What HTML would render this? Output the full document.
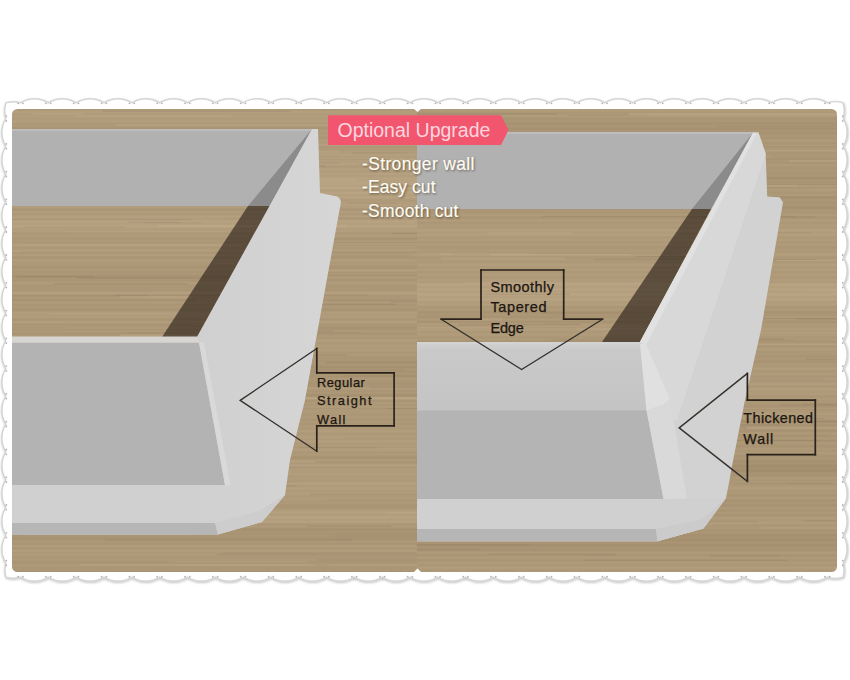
<!DOCTYPE html>
<html><head><meta charset="utf-8"><style>
html,body{margin:0;padding:0;background:#fff;width:850px;height:680px;overflow:hidden;font-family:"Liberation Sans",sans-serif;}
svg{display:block;position:absolute;left:0;top:0;}
</style></head><body><svg width="850" height="680" viewBox="0 0 850 680"><defs><linearGradient id="woodL" gradientUnits="userSpaceOnUse" x1="0" y1="109" x2="0" y2="572"><stop offset="0.0000" stop-color="#ac9777"/><stop offset="0.0022" stop-color="#ad9878"/><stop offset="0.0043" stop-color="#b19d7c"/><stop offset="0.0065" stop-color="#b49f7f"/><stop offset="0.0086" stop-color="#b19c7c"/><stop offset="0.0108" stop-color="#af9a7a"/><stop offset="0.0130" stop-color="#b09b7b"/><stop offset="0.0151" stop-color="#b19c7c"/><stop offset="0.0173" stop-color="#b29d7d"/><stop offset="0.0194" stop-color="#af9a7a"/><stop offset="0.0216" stop-color="#ae9979"/><stop offset="0.0238" stop-color="#b09b7b"/><stop offset="0.0259" stop-color="#b39e7e"/><stop offset="0.0281" stop-color="#b29d7d"/><stop offset="0.0302" stop-color="#ae9979"/><stop offset="0.0324" stop-color="#aa9575"/><stop offset="0.0346" stop-color="#af9a7a"/><stop offset="0.0367" stop-color="#af9a7a"/><stop offset="0.0389" stop-color="#ac9777"/><stop offset="0.0410" stop-color="#a89373"/><stop offset="0.0432" stop-color="#aa9575"/><stop offset="0.0454" stop-color="#ac9777"/><stop offset="0.0475" stop-color="#af9a7a"/><stop offset="0.0497" stop-color="#af9a7a"/><stop offset="0.0518" stop-color="#ac9777"/><stop offset="0.0540" stop-color="#ac9777"/><stop offset="0.0562" stop-color="#af9a7a"/><stop offset="0.0583" stop-color="#af9a7a"/><stop offset="0.0605" stop-color="#aa9575"/><stop offset="0.0626" stop-color="#ab9676"/><stop offset="0.0648" stop-color="#ac9777"/><stop offset="0.0670" stop-color="#b19c7c"/><stop offset="0.0691" stop-color="#b09b7b"/><stop offset="0.0713" stop-color="#af9a7a"/><stop offset="0.0734" stop-color="#ad9878"/><stop offset="0.0756" stop-color="#b19c7c"/><stop offset="0.0778" stop-color="#b5a080"/><stop offset="0.0799" stop-color="#b09b7b"/><stop offset="0.0821" stop-color="#ad9778"/><stop offset="0.0842" stop-color="#ac9777"/><stop offset="0.0864" stop-color="#b09b7b"/><stop offset="0.0886" stop-color="#b39e7e"/><stop offset="0.0907" stop-color="#b19c7c"/><stop offset="0.0929" stop-color="#af9a7a"/><stop offset="0.0950" stop-color="#af9a7a"/><stop offset="0.0972" stop-color="#b49f7f"/><stop offset="0.0994" stop-color="#b49f7f"/><stop offset="0.1015" stop-color="#b19c7c"/><stop offset="0.1037" stop-color="#b09b7b"/><stop offset="0.1058" stop-color="#b19c7c"/><stop offset="0.1080" stop-color="#b5a080"/><stop offset="0.1102" stop-color="#b6a181"/><stop offset="0.1123" stop-color="#b29d7d"/><stop offset="0.1145" stop-color="#b19c7c"/><stop offset="0.1166" stop-color="#b49f7f"/><stop offset="0.1188" stop-color="#b5a080"/><stop offset="0.1210" stop-color="#b5a080"/><stop offset="0.1231" stop-color="#af9a7a"/><stop offset="0.1253" stop-color="#ac9777"/><stop offset="0.1274" stop-color="#b19c7c"/><stop offset="0.1296" stop-color="#b5a080"/><stop offset="0.1317" stop-color="#b39e7e"/><stop offset="0.1339" stop-color="#b19c7c"/><stop offset="0.1361" stop-color="#af9a7a"/><stop offset="0.1382" stop-color="#b4a07f"/><stop offset="0.1404" stop-color="#b6a281"/><stop offset="0.1425" stop-color="#b39e7e"/><stop offset="0.1447" stop-color="#b19c7c"/><stop offset="0.1469" stop-color="#b39e7e"/><stop offset="0.1490" stop-color="#b6a181"/><stop offset="0.1512" stop-color="#b8a483"/><stop offset="0.1533" stop-color="#b5a080"/><stop offset="0.1555" stop-color="#b5a180"/><stop offset="0.1577" stop-color="#b8a383"/><stop offset="0.1598" stop-color="#b8a383"/><stop offset="0.1620" stop-color="#b8a483"/><stop offset="0.1641" stop-color="#b6a281"/><stop offset="0.1663" stop-color="#b49f7f"/><stop offset="0.1685" stop-color="#b8a383"/><stop offset="0.1706" stop-color="#bba686"/><stop offset="0.1728" stop-color="#b7a282"/><stop offset="0.1749" stop-color="#b19c7c"/><stop offset="0.1771" stop-color="#b29d7d"/><stop offset="0.1793" stop-color="#b7a382"/><stop offset="0.1814" stop-color="#b9a484"/><stop offset="0.1836" stop-color="#b5a080"/><stop offset="0.1857" stop-color="#b39f7e"/><stop offset="0.1879" stop-color="#b39e7e"/><stop offset="0.1901" stop-color="#b8a383"/><stop offset="0.1922" stop-color="#b6a281"/><stop offset="0.1944" stop-color="#b19c7c"/><stop offset="0.1965" stop-color="#ae9979"/><stop offset="0.1987" stop-color="#ae9979"/><stop offset="0.2009" stop-color="#b19c7c"/><stop offset="0.2030" stop-color="#b29d7d"/><stop offset="0.2052" stop-color="#b09b7b"/><stop offset="0.2073" stop-color="#ae9979"/><stop offset="0.2095" stop-color="#af9a7a"/><stop offset="0.2117" stop-color="#b29d7d"/><stop offset="0.2138" stop-color="#b19c7c"/><stop offset="0.2160" stop-color="#a99474"/><stop offset="0.2181" stop-color="#a99474"/><stop offset="0.2203" stop-color="#af9a7a"/><stop offset="0.2225" stop-color="#b29d7d"/><stop offset="0.2246" stop-color="#af9a7a"/><stop offset="0.2268" stop-color="#ad9878"/><stop offset="0.2289" stop-color="#ad9878"/><stop offset="0.2311" stop-color="#b39e7e"/><stop offset="0.2333" stop-color="#b5a080"/><stop offset="0.2354" stop-color="#b19c7c"/><stop offset="0.2376" stop-color="#b19c7c"/><stop offset="0.2397" stop-color="#b19c7c"/><stop offset="0.2419" stop-color="#b7a282"/><stop offset="0.2441" stop-color="#b6a181"/><stop offset="0.2462" stop-color="#b49f7f"/><stop offset="0.2484" stop-color="#b39e7e"/><stop offset="0.2505" stop-color="#b5a080"/><stop offset="0.2527" stop-color="#b8a383"/><stop offset="0.2549" stop-color="#b7a382"/><stop offset="0.2570" stop-color="#b39e7e"/><stop offset="0.2592" stop-color="#b09b7b"/><stop offset="0.2613" stop-color="#b19c7c"/><stop offset="0.2635" stop-color="#b39e7e"/><stop offset="0.2657" stop-color="#b19c7c"/><stop offset="0.2678" stop-color="#aa9575"/><stop offset="0.2700" stop-color="#ac9777"/><stop offset="0.2721" stop-color="#af9a7a"/><stop offset="0.2743" stop-color="#b09b7b"/><stop offset="0.2765" stop-color="#ae9979"/><stop offset="0.2786" stop-color="#aa9575"/><stop offset="0.2808" stop-color="#ab9676"/><stop offset="0.2829" stop-color="#ad9878"/><stop offset="0.2851" stop-color="#ae9979"/><stop offset="0.2873" stop-color="#ab9676"/><stop offset="0.2894" stop-color="#ab9676"/><stop offset="0.2916" stop-color="#b09c7b"/><stop offset="0.2937" stop-color="#b39e7e"/><stop offset="0.2959" stop-color="#b29d7d"/><stop offset="0.2981" stop-color="#ad9878"/><stop offset="0.3002" stop-color="#ac9777"/><stop offset="0.3024" stop-color="#ae9979"/><stop offset="0.3045" stop-color="#b39e7e"/><stop offset="0.3067" stop-color="#b19c7c"/><stop offset="0.3089" stop-color="#ae9979"/><stop offset="0.3110" stop-color="#a99474"/><stop offset="0.3132" stop-color="#ae9979"/><stop offset="0.3153" stop-color="#b29d7d"/><stop offset="0.3175" stop-color="#af9a7a"/><stop offset="0.3197" stop-color="#aa9575"/><stop offset="0.3218" stop-color="#a79272"/><stop offset="0.3240" stop-color="#b09b7b"/><stop offset="0.3261" stop-color="#b19c7c"/><stop offset="0.3283" stop-color="#b09b7b"/><stop offset="0.3305" stop-color="#ae9979"/><stop offset="0.3326" stop-color="#ac9777"/><stop offset="0.3348" stop-color="#ae9979"/><stop offset="0.3369" stop-color="#ad9878"/><stop offset="0.3391" stop-color="#aa9575"/><stop offset="0.3413" stop-color="#a89373"/><stop offset="0.3434" stop-color="#a89373"/><stop offset="0.3456" stop-color="#ad9878"/><stop offset="0.3477" stop-color="#b09b7b"/><stop offset="0.3499" stop-color="#aa9575"/><stop offset="0.3521" stop-color="#a99474"/><stop offset="0.3542" stop-color="#ab9676"/><stop offset="0.3564" stop-color="#ad9878"/><stop offset="0.3585" stop-color="#a99474"/><stop offset="0.3607" stop-color="#a69071"/><stop offset="0.3629" stop-color="#a89273"/><stop offset="0.3650" stop-color="#a99474"/><stop offset="0.3672" stop-color="#ac9777"/><stop offset="0.3693" stop-color="#a99474"/><stop offset="0.3715" stop-color="#a99474"/><stop offset="0.3737" stop-color="#ae9979"/><stop offset="0.3758" stop-color="#b19c7c"/><stop offset="0.3780" stop-color="#af9a7a"/><stop offset="0.3801" stop-color="#ab9676"/><stop offset="0.3823" stop-color="#aa9575"/><stop offset="0.3844" stop-color="#ab9676"/><stop offset="0.3866" stop-color="#ab9676"/><stop offset="0.3888" stop-color="#ac9777"/><stop offset="0.3909" stop-color="#ab9576"/><stop offset="0.3931" stop-color="#ab9676"/><stop offset="0.3952" stop-color="#b19c7c"/><stop offset="0.3974" stop-color="#b5a080"/><stop offset="0.3996" stop-color="#b19c7c"/><stop offset="0.4017" stop-color="#ad9878"/><stop offset="0.4039" stop-color="#ab9576"/><stop offset="0.4060" stop-color="#ac9777"/><stop offset="0.4082" stop-color="#ad9878"/><stop offset="0.4104" stop-color="#aa9575"/><stop offset="0.4125" stop-color="#a69171"/><stop offset="0.4147" stop-color="#a99374"/><stop offset="0.4168" stop-color="#af9a7a"/><stop offset="0.4190" stop-color="#b09b7b"/><stop offset="0.4212" stop-color="#ab9676"/><stop offset="0.4233" stop-color="#aa9475"/><stop offset="0.4255" stop-color="#ab9676"/><stop offset="0.4276" stop-color="#ae9979"/><stop offset="0.4298" stop-color="#aa9575"/><stop offset="0.4320" stop-color="#a89373"/><stop offset="0.4341" stop-color="#a79272"/><stop offset="0.4363" stop-color="#ab9676"/><stop offset="0.4384" stop-color="#b09b7b"/><stop offset="0.4406" stop-color="#b29d7d"/><stop offset="0.4428" stop-color="#b09b7b"/><stop offset="0.4449" stop-color="#ac9777"/><stop offset="0.4471" stop-color="#b29d7d"/><stop offset="0.4492" stop-color="#b09b7b"/><stop offset="0.4514" stop-color="#ae9979"/><stop offset="0.4536" stop-color="#aa9575"/><stop offset="0.4557" stop-color="#a99474"/><stop offset="0.4579" stop-color="#af9a7a"/><stop offset="0.4600" stop-color="#b49f7f"/><stop offset="0.4622" stop-color="#ae9979"/><stop offset="0.4644" stop-color="#ac9777"/><stop offset="0.4665" stop-color="#a99474"/><stop offset="0.4687" stop-color="#ac9777"/><stop offset="0.4708" stop-color="#ad9878"/><stop offset="0.4730" stop-color="#a79272"/><stop offset="0.4752" stop-color="#a79272"/><stop offset="0.4773" stop-color="#aa9575"/><stop offset="0.4795" stop-color="#af9a7a"/><stop offset="0.4816" stop-color="#ad9878"/><stop offset="0.4838" stop-color="#aa9575"/><stop offset="0.4860" stop-color="#a79272"/><stop offset="0.4881" stop-color="#ac9777"/><stop offset="0.4903" stop-color="#ae9979"/><stop offset="0.4924" stop-color="#ad9878"/><stop offset="0.4946" stop-color="#ab9676"/><stop offset="0.4968" stop-color="#ae9979"/><stop offset="0.4989" stop-color="#b29d7d"/><stop offset="0.5011" stop-color="#b39e7e"/><stop offset="0.5032" stop-color="#af9a7a"/><stop offset="0.5054" stop-color="#ab9676"/><stop offset="0.5076" stop-color="#ac9777"/><stop offset="0.5097" stop-color="#b09c7b"/><stop offset="0.5119" stop-color="#b19c7c"/><stop offset="0.5140" stop-color="#af9a7a"/><stop offset="0.5162" stop-color="#ad9878"/><stop offset="0.5184" stop-color="#af9a7a"/><stop offset="0.5205" stop-color="#b29d7d"/><stop offset="0.5227" stop-color="#af9a7a"/><stop offset="0.5248" stop-color="#ab9676"/><stop offset="0.5270" stop-color="#aa9575"/><stop offset="0.5292" stop-color="#ad9878"/><stop offset="0.5313" stop-color="#af9a7a"/><stop offset="0.5335" stop-color="#ad9878"/><stop offset="0.5356" stop-color="#a89373"/><stop offset="0.5378" stop-color="#aa9575"/><stop offset="0.5400" stop-color="#aa9475"/><stop offset="0.5421" stop-color="#ab9676"/><stop offset="0.5443" stop-color="#a89373"/><stop offset="0.5464" stop-color="#a38e6e"/><stop offset="0.5486" stop-color="#a58f70"/><stop offset="0.5508" stop-color="#aa9575"/><stop offset="0.5529" stop-color="#ab9676"/><stop offset="0.5551" stop-color="#a89373"/><stop offset="0.5572" stop-color="#a38e6e"/><stop offset="0.5594" stop-color="#a69171"/><stop offset="0.5616" stop-color="#ac9777"/><stop offset="0.5637" stop-color="#ac9777"/><stop offset="0.5659" stop-color="#a89373"/><stop offset="0.5680" stop-color="#a69071"/><stop offset="0.5702" stop-color="#aa9575"/><stop offset="0.5724" stop-color="#ab9676"/><stop offset="0.5745" stop-color="#ab9676"/><stop offset="0.5767" stop-color="#a89373"/><stop offset="0.5788" stop-color="#a79272"/><stop offset="0.5810" stop-color="#ad9878"/><stop offset="0.5832" stop-color="#ad9878"/><stop offset="0.5853" stop-color="#ac9777"/><stop offset="0.5875" stop-color="#aa9575"/><stop offset="0.5896" stop-color="#a99474"/><stop offset="0.5918" stop-color="#aa9575"/><stop offset="0.5940" stop-color="#ac9677"/><stop offset="0.5961" stop-color="#aa9575"/><stop offset="0.5983" stop-color="#a99474"/><stop offset="0.6004" stop-color="#ac9777"/><stop offset="0.6026" stop-color="#b29e7d"/><stop offset="0.6048" stop-color="#b09b7b"/><stop offset="0.6069" stop-color="#ab9676"/><stop offset="0.6091" stop-color="#a99474"/><stop offset="0.6112" stop-color="#ab9676"/><stop offset="0.6134" stop-color="#ad9878"/><stop offset="0.6156" stop-color="#a99474"/><stop offset="0.6177" stop-color="#a48e6f"/><stop offset="0.6199" stop-color="#a59070"/><stop offset="0.6220" stop-color="#ac9777"/><stop offset="0.6242" stop-color="#b39e7e"/><stop offset="0.6263" stop-color="#af9a7a"/><stop offset="0.6285" stop-color="#a89373"/><stop offset="0.6307" stop-color="#a99474"/><stop offset="0.6328" stop-color="#ab9676"/><stop offset="0.6350" stop-color="#af9a7a"/><stop offset="0.6371" stop-color="#ad9878"/><stop offset="0.6393" stop-color="#aa9575"/><stop offset="0.6415" stop-color="#ad9878"/><stop offset="0.6436" stop-color="#b29d7d"/><stop offset="0.6458" stop-color="#b29d7d"/><stop offset="0.6479" stop-color="#af9a7a"/><stop offset="0.6501" stop-color="#ac9777"/><stop offset="0.6523" stop-color="#ae9979"/><stop offset="0.6544" stop-color="#ae9979"/><stop offset="0.6566" stop-color="#ad9878"/><stop offset="0.6587" stop-color="#ac9777"/><stop offset="0.6609" stop-color="#aa9575"/><stop offset="0.6631" stop-color="#ad9878"/><stop offset="0.6652" stop-color="#af9a7a"/><stop offset="0.6674" stop-color="#ae9979"/><stop offset="0.6695" stop-color="#aa9575"/><stop offset="0.6717" stop-color="#a99474"/><stop offset="0.6739" stop-color="#ac9777"/><stop offset="0.6760" stop-color="#b09b7b"/><stop offset="0.6782" stop-color="#ab9676"/><stop offset="0.6803" stop-color="#aa9575"/><stop offset="0.6825" stop-color="#ac9777"/><stop offset="0.6847" stop-color="#ae9979"/><stop offset="0.6868" stop-color="#b09b7b"/><stop offset="0.6890" stop-color="#ac9777"/><stop offset="0.6911" stop-color="#ad9878"/><stop offset="0.6933" stop-color="#af9a7a"/><stop offset="0.6955" stop-color="#b39e7e"/><stop offset="0.6976" stop-color="#b09b7b"/><stop offset="0.6998" stop-color="#ac9777"/><stop offset="0.7019" stop-color="#ac9777"/><stop offset="0.7041" stop-color="#b09b7b"/><stop offset="0.7063" stop-color="#af9a7a"/><stop offset="0.7084" stop-color="#b29d7d"/><stop offset="0.7106" stop-color="#ad9878"/><stop offset="0.7127" stop-color="#ac9777"/><stop offset="0.7149" stop-color="#af9b7a"/><stop offset="0.7171" stop-color="#b39e7e"/><stop offset="0.7192" stop-color="#b39e7e"/><stop offset="0.7214" stop-color="#ad9878"/><stop offset="0.7235" stop-color="#ae9979"/><stop offset="0.7257" stop-color="#af9a7a"/><stop offset="0.7279" stop-color="#b09b7b"/><stop offset="0.7300" stop-color="#ae9979"/><stop offset="0.7322" stop-color="#ab9676"/><stop offset="0.7343" stop-color="#ad9878"/><stop offset="0.7365" stop-color="#b39e7e"/><stop offset="0.7387" stop-color="#b09b7b"/><stop offset="0.7408" stop-color="#aa9575"/><stop offset="0.7430" stop-color="#ac9777"/><stop offset="0.7451" stop-color="#ae9979"/><stop offset="0.7473" stop-color="#ae9979"/><stop offset="0.7495" stop-color="#ab9676"/><stop offset="0.7516" stop-color="#a69171"/><stop offset="0.7538" stop-color="#a69171"/><stop offset="0.7559" stop-color="#aa9575"/><stop offset="0.7581" stop-color="#af9a7a"/><stop offset="0.7603" stop-color="#ad9878"/><stop offset="0.7624" stop-color="#a99474"/><stop offset="0.7646" stop-color="#aa9575"/><stop offset="0.7667" stop-color="#af9b7a"/><stop offset="0.7689" stop-color="#b19c7c"/><stop offset="0.7711" stop-color="#b09b7b"/><stop offset="0.7732" stop-color="#ab9576"/><stop offset="0.7754" stop-color="#ac9777"/><stop offset="0.7775" stop-color="#b09b7b"/><stop offset="0.7797" stop-color="#b19c7c"/><stop offset="0.7819" stop-color="#af9a7a"/><stop offset="0.7840" stop-color="#af9a7a"/><stop offset="0.7862" stop-color="#b19c7c"/><stop offset="0.7883" stop-color="#b39e7e"/><stop offset="0.7905" stop-color="#b19c7c"/><stop offset="0.7927" stop-color="#ae9979"/><stop offset="0.7948" stop-color="#ae9979"/><stop offset="0.7970" stop-color="#af9a7a"/><stop offset="0.7991" stop-color="#b19c7c"/><stop offset="0.8013" stop-color="#ad9878"/><stop offset="0.8035" stop-color="#ad9878"/><stop offset="0.8056" stop-color="#ae9979"/><stop offset="0.8078" stop-color="#b49f7f"/><stop offset="0.8099" stop-color="#b49f7f"/><stop offset="0.8121" stop-color="#b19c7c"/><stop offset="0.8143" stop-color="#ad9878"/><stop offset="0.8164" stop-color="#b19c7c"/><stop offset="0.8186" stop-color="#b39f7e"/><stop offset="0.8207" stop-color="#b39e7e"/><stop offset="0.8229" stop-color="#af9a7a"/><stop offset="0.8251" stop-color="#ae9979"/><stop offset="0.8272" stop-color="#af9a7a"/><stop offset="0.8294" stop-color="#b29d7d"/><stop offset="0.8315" stop-color="#b39e7e"/><stop offset="0.8337" stop-color="#b09b7b"/><stop offset="0.8359" stop-color="#ac9777"/><stop offset="0.8380" stop-color="#ae9979"/><stop offset="0.8402" stop-color="#b09b7b"/><stop offset="0.8423" stop-color="#ae9979"/><stop offset="0.8445" stop-color="#aa9575"/><stop offset="0.8467" stop-color="#a99474"/><stop offset="0.8488" stop-color="#ad9878"/><stop offset="0.8510" stop-color="#ae9979"/><stop offset="0.8531" stop-color="#ad9878"/><stop offset="0.8553" stop-color="#a89373"/><stop offset="0.8575" stop-color="#a89373"/><stop offset="0.8596" stop-color="#ae9979"/><stop offset="0.8618" stop-color="#af9a7a"/><stop offset="0.8639" stop-color="#ae9979"/><stop offset="0.8661" stop-color="#ae9979"/><stop offset="0.8683" stop-color="#b19c7c"/><stop offset="0.8704" stop-color="#b39e7e"/><stop offset="0.8726" stop-color="#b6a181"/><stop offset="0.8747" stop-color="#b19c7c"/><stop offset="0.8769" stop-color="#b09b7b"/><stop offset="0.8790" stop-color="#b49f7f"/><stop offset="0.8812" stop-color="#b8a383"/><stop offset="0.8834" stop-color="#b6a281"/><stop offset="0.8855" stop-color="#b29d7d"/><stop offset="0.8877" stop-color="#b19c7c"/><stop offset="0.8898" stop-color="#b49f7f"/><stop offset="0.8920" stop-color="#b6a281"/><stop offset="0.8942" stop-color="#b19c7c"/><stop offset="0.8963" stop-color="#ac9777"/><stop offset="0.8985" stop-color="#aa9475"/><stop offset="0.9006" stop-color="#af9a7a"/><stop offset="0.9028" stop-color="#af9a7a"/><stop offset="0.9050" stop-color="#a99474"/><stop offset="0.9071" stop-color="#a59070"/><stop offset="0.9093" stop-color="#a59070"/><stop offset="0.9114" stop-color="#a99474"/><stop offset="0.9136" stop-color="#aa9575"/><stop offset="0.9158" stop-color="#a89373"/><stop offset="0.9179" stop-color="#a79272"/><stop offset="0.9201" stop-color="#a99474"/><stop offset="0.9222" stop-color="#ab9676"/><stop offset="0.9244" stop-color="#a89373"/><stop offset="0.9266" stop-color="#a69171"/><stop offset="0.9287" stop-color="#a79172"/><stop offset="0.9309" stop-color="#a99474"/><stop offset="0.9330" stop-color="#ac9777"/><stop offset="0.9352" stop-color="#ae9979"/><stop offset="0.9374" stop-color="#a89373"/><stop offset="0.9395" stop-color="#ab9576"/><stop offset="0.9417" stop-color="#ad9878"/><stop offset="0.9438" stop-color="#b29d7d"/><stop offset="0.9460" stop-color="#af9a7a"/><stop offset="0.9482" stop-color="#aa9575"/><stop offset="0.9503" stop-color="#ab9676"/><stop offset="0.9525" stop-color="#b19c7c"/><stop offset="0.9546" stop-color="#b19c7c"/><stop offset="0.9568" stop-color="#af9a7a"/><stop offset="0.9590" stop-color="#ac9777"/><stop offset="0.9611" stop-color="#ae9979"/><stop offset="0.9633" stop-color="#b19c7c"/><stop offset="0.9654" stop-color="#ad9878"/><stop offset="0.9676" stop-color="#ac9777"/><stop offset="0.9698" stop-color="#aa9575"/><stop offset="0.9719" stop-color="#ae9979"/><stop offset="0.9741" stop-color="#ae9979"/><stop offset="0.9762" stop-color="#aa9575"/><stop offset="0.9784" stop-color="#a99474"/><stop offset="0.9806" stop-color="#a89373"/><stop offset="0.9827" stop-color="#ad9878"/><stop offset="0.9849" stop-color="#ad9878"/><stop offset="0.9870" stop-color="#ae9979"/><stop offset="0.9892" stop-color="#aa9575"/><stop offset="0.9914" stop-color="#a99474"/><stop offset="0.9935" stop-color="#ac9777"/><stop offset="0.9957" stop-color="#ac9777"/><stop offset="0.9978" stop-color="#a99474"/><stop offset="1.0000" stop-color="#a69171"/></linearGradient><linearGradient id="woodR" gradientUnits="userSpaceOnUse" x1="0" y1="109" x2="0" y2="572"><stop offset="0.0000" stop-color="#ae9979"/><stop offset="0.0022" stop-color="#af9a7a"/><stop offset="0.0043" stop-color="#b09b7b"/><stop offset="0.0065" stop-color="#ad9878"/><stop offset="0.0086" stop-color="#aa9575"/><stop offset="0.0108" stop-color="#ab9676"/><stop offset="0.0130" stop-color="#af9a7a"/><stop offset="0.0151" stop-color="#b19d7c"/><stop offset="0.0173" stop-color="#ae9979"/><stop offset="0.0194" stop-color="#a99474"/><stop offset="0.0216" stop-color="#a89373"/><stop offset="0.0238" stop-color="#ab9676"/><stop offset="0.0259" stop-color="#ac9777"/><stop offset="0.0281" stop-color="#aa9575"/><stop offset="0.0302" stop-color="#a69171"/><stop offset="0.0324" stop-color="#a69171"/><stop offset="0.0346" stop-color="#a99474"/><stop offset="0.0367" stop-color="#ab9676"/><stop offset="0.0389" stop-color="#ab9576"/><stop offset="0.0410" stop-color="#a69171"/><stop offset="0.0432" stop-color="#a69071"/><stop offset="0.0454" stop-color="#a89373"/><stop offset="0.0475" stop-color="#ab9676"/><stop offset="0.0497" stop-color="#a89373"/><stop offset="0.0518" stop-color="#a59070"/><stop offset="0.0540" stop-color="#a79272"/><stop offset="0.0562" stop-color="#ab9676"/><stop offset="0.0583" stop-color="#ad9878"/><stop offset="0.0605" stop-color="#aa9575"/><stop offset="0.0626" stop-color="#a89373"/><stop offset="0.0648" stop-color="#aa9575"/><stop offset="0.0670" stop-color="#ae9979"/><stop offset="0.0691" stop-color="#af9b7a"/><stop offset="0.0713" stop-color="#ac9777"/><stop offset="0.0734" stop-color="#a99474"/><stop offset="0.0756" stop-color="#a99474"/><stop offset="0.0778" stop-color="#ae9979"/><stop offset="0.0799" stop-color="#b09b7b"/><stop offset="0.0821" stop-color="#ad9878"/><stop offset="0.0842" stop-color="#ab9676"/><stop offset="0.0864" stop-color="#ac9777"/><stop offset="0.0886" stop-color="#af9a7a"/><stop offset="0.0907" stop-color="#af9a7a"/><stop offset="0.0929" stop-color="#ad9878"/><stop offset="0.0950" stop-color="#a89373"/><stop offset="0.0972" stop-color="#a99474"/><stop offset="0.0994" stop-color="#ad9878"/><stop offset="0.1015" stop-color="#ac9777"/><stop offset="0.1037" stop-color="#a99474"/><stop offset="0.1058" stop-color="#a59070"/><stop offset="0.1080" stop-color="#a59070"/><stop offset="0.1102" stop-color="#aa9575"/><stop offset="0.1123" stop-color="#ad9878"/><stop offset="0.1145" stop-color="#a99474"/><stop offset="0.1166" stop-color="#a99474"/><stop offset="0.1188" stop-color="#ab9676"/><stop offset="0.1210" stop-color="#b09b7b"/><stop offset="0.1231" stop-color="#ad9878"/><stop offset="0.1253" stop-color="#aa9575"/><stop offset="0.1274" stop-color="#a99474"/><stop offset="0.1296" stop-color="#a89373"/><stop offset="0.1317" stop-color="#ac9777"/><stop offset="0.1339" stop-color="#ab9676"/><stop offset="0.1361" stop-color="#aa9575"/><stop offset="0.1382" stop-color="#a99474"/><stop offset="0.1404" stop-color="#a99474"/><stop offset="0.1425" stop-color="#ac9777"/><stop offset="0.1447" stop-color="#aa9575"/><stop offset="0.1469" stop-color="#a89373"/><stop offset="0.1490" stop-color="#a28d6d"/><stop offset="0.1512" stop-color="#a48f6f"/><stop offset="0.1533" stop-color="#ab9676"/><stop offset="0.1555" stop-color="#ac9777"/><stop offset="0.1577" stop-color="#a89373"/><stop offset="0.1598" stop-color="#a89373"/><stop offset="0.1620" stop-color="#ac9777"/><stop offset="0.1641" stop-color="#b29d7d"/><stop offset="0.1663" stop-color="#af9a7a"/><stop offset="0.1685" stop-color="#ac9777"/><stop offset="0.1706" stop-color="#a99474"/><stop offset="0.1728" stop-color="#ad9878"/><stop offset="0.1749" stop-color="#b09b7b"/><stop offset="0.1771" stop-color="#ae9979"/><stop offset="0.1793" stop-color="#ac9777"/><stop offset="0.1814" stop-color="#aa9575"/><stop offset="0.1836" stop-color="#ad9878"/><stop offset="0.1857" stop-color="#af9a7a"/><stop offset="0.1879" stop-color="#ae9979"/><stop offset="0.1901" stop-color="#a89373"/><stop offset="0.1922" stop-color="#a79272"/><stop offset="0.1944" stop-color="#a89373"/><stop offset="0.1965" stop-color="#ad9878"/><stop offset="0.1987" stop-color="#ab9676"/><stop offset="0.2009" stop-color="#a99474"/><stop offset="0.2030" stop-color="#a89373"/><stop offset="0.2052" stop-color="#a99474"/><stop offset="0.2073" stop-color="#ac9777"/><stop offset="0.2095" stop-color="#aa9575"/><stop offset="0.2117" stop-color="#a59070"/><stop offset="0.2138" stop-color="#a48f6f"/><stop offset="0.2160" stop-color="#a99474"/><stop offset="0.2181" stop-color="#ab9576"/><stop offset="0.2203" stop-color="#ac9777"/><stop offset="0.2225" stop-color="#aa9575"/><stop offset="0.2246" stop-color="#aa9575"/><stop offset="0.2268" stop-color="#ad9878"/><stop offset="0.2289" stop-color="#b19c7c"/><stop offset="0.2311" stop-color="#ae9979"/><stop offset="0.2333" stop-color="#a99474"/><stop offset="0.2354" stop-color="#a99474"/><stop offset="0.2376" stop-color="#ad9878"/><stop offset="0.2397" stop-color="#b09b7b"/><stop offset="0.2419" stop-color="#b19c7c"/><stop offset="0.2441" stop-color="#ab9676"/><stop offset="0.2462" stop-color="#ab9676"/><stop offset="0.2484" stop-color="#ad9878"/><stop offset="0.2505" stop-color="#b09b7b"/><stop offset="0.2527" stop-color="#af9a7a"/><stop offset="0.2549" stop-color="#ae9979"/><stop offset="0.2570" stop-color="#ac9777"/><stop offset="0.2592" stop-color="#b09b7b"/><stop offset="0.2613" stop-color="#b5a080"/><stop offset="0.2635" stop-color="#b49f7f"/><stop offset="0.2657" stop-color="#b09b7b"/><stop offset="0.2678" stop-color="#af9a7a"/><stop offset="0.2700" stop-color="#b29e7d"/><stop offset="0.2721" stop-color="#b4a07f"/><stop offset="0.2743" stop-color="#b19c7c"/><stop offset="0.2765" stop-color="#ad9878"/><stop offset="0.2786" stop-color="#ad9878"/><stop offset="0.2808" stop-color="#af9a7a"/><stop offset="0.2829" stop-color="#b19c7c"/><stop offset="0.2851" stop-color="#af9a7a"/><stop offset="0.2873" stop-color="#ab9676"/><stop offset="0.2894" stop-color="#ad9778"/><stop offset="0.2916" stop-color="#af9a7a"/><stop offset="0.2937" stop-color="#b09b7b"/><stop offset="0.2959" stop-color="#ad9878"/><stop offset="0.2981" stop-color="#aa9575"/><stop offset="0.3002" stop-color="#aa9575"/><stop offset="0.3024" stop-color="#ad9878"/><stop offset="0.3045" stop-color="#af9a7a"/><stop offset="0.3067" stop-color="#ae9979"/><stop offset="0.3089" stop-color="#ac9777"/><stop offset="0.3110" stop-color="#af9a7a"/><stop offset="0.3132" stop-color="#b19d7c"/><stop offset="0.3153" stop-color="#b49f7f"/><stop offset="0.3175" stop-color="#ae9979"/><stop offset="0.3197" stop-color="#ab9676"/><stop offset="0.3218" stop-color="#aa9575"/><stop offset="0.3240" stop-color="#ad9878"/><stop offset="0.3261" stop-color="#af9a7a"/><stop offset="0.3283" stop-color="#ad9878"/><stop offset="0.3305" stop-color="#ab9676"/><stop offset="0.3326" stop-color="#ae9979"/><stop offset="0.3348" stop-color="#b19c7c"/><stop offset="0.3369" stop-color="#b39e7e"/><stop offset="0.3391" stop-color="#b19c7c"/><stop offset="0.3413" stop-color="#ac9777"/><stop offset="0.3434" stop-color="#ae9979"/><stop offset="0.3456" stop-color="#b09b7b"/><stop offset="0.3477" stop-color="#b29d7d"/><stop offset="0.3499" stop-color="#ae9979"/><stop offset="0.3521" stop-color="#ac9777"/><stop offset="0.3542" stop-color="#ad9878"/><stop offset="0.3564" stop-color="#b19c7c"/><stop offset="0.3585" stop-color="#b19c7c"/><stop offset="0.3607" stop-color="#ae9979"/><stop offset="0.3629" stop-color="#ab9676"/><stop offset="0.3650" stop-color="#ad9878"/><stop offset="0.3672" stop-color="#b09b7b"/><stop offset="0.3693" stop-color="#b29d7d"/><stop offset="0.3715" stop-color="#b09b7b"/><stop offset="0.3737" stop-color="#af9a7a"/><stop offset="0.3758" stop-color="#b09b7b"/><stop offset="0.3780" stop-color="#b7a282"/><stop offset="0.3801" stop-color="#b9a484"/><stop offset="0.3823" stop-color="#b49f7f"/><stop offset="0.3844" stop-color="#b39e7e"/><stop offset="0.3866" stop-color="#b39e7e"/><stop offset="0.3888" stop-color="#b8a483"/><stop offset="0.3909" stop-color="#b7a282"/><stop offset="0.3931" stop-color="#b4a07f"/><stop offset="0.3952" stop-color="#b19d7c"/><stop offset="0.3974" stop-color="#b6a181"/><stop offset="0.3996" stop-color="#b9a484"/><stop offset="0.4017" stop-color="#b8a383"/><stop offset="0.4039" stop-color="#b5a080"/><stop offset="0.4060" stop-color="#b19c7c"/><stop offset="0.4082" stop-color="#b49f7f"/><stop offset="0.4104" stop-color="#b8a383"/><stop offset="0.4125" stop-color="#b7a282"/><stop offset="0.4147" stop-color="#b29e7d"/><stop offset="0.4168" stop-color="#b09b7b"/><stop offset="0.4190" stop-color="#b09b7b"/><stop offset="0.4212" stop-color="#b39f7e"/><stop offset="0.4233" stop-color="#b39e7e"/><stop offset="0.4255" stop-color="#ae9979"/><stop offset="0.4276" stop-color="#aa9575"/><stop offset="0.4298" stop-color="#ab9676"/><stop offset="0.4320" stop-color="#af9a7a"/><stop offset="0.4341" stop-color="#ae9979"/><stop offset="0.4363" stop-color="#ab9676"/><stop offset="0.4384" stop-color="#a69171"/><stop offset="0.4406" stop-color="#a89373"/><stop offset="0.4428" stop-color="#ac9777"/><stop offset="0.4449" stop-color="#aa9575"/><stop offset="0.4471" stop-color="#a99474"/><stop offset="0.4492" stop-color="#a89373"/><stop offset="0.4514" stop-color="#a89373"/><stop offset="0.4536" stop-color="#ae9979"/><stop offset="0.4557" stop-color="#ae9979"/><stop offset="0.4579" stop-color="#a99474"/><stop offset="0.4600" stop-color="#a69171"/><stop offset="0.4622" stop-color="#aa9575"/><stop offset="0.4644" stop-color="#af9a7a"/><stop offset="0.4665" stop-color="#af9a7a"/><stop offset="0.4687" stop-color="#ac9777"/><stop offset="0.4708" stop-color="#ac9777"/><stop offset="0.4730" stop-color="#af9a7a"/><stop offset="0.4752" stop-color="#b19c7c"/><stop offset="0.4773" stop-color="#b29d7d"/><stop offset="0.4795" stop-color="#ad9878"/><stop offset="0.4816" stop-color="#ac9777"/><stop offset="0.4838" stop-color="#ad9878"/><stop offset="0.4860" stop-color="#b09c7b"/><stop offset="0.4881" stop-color="#b09b7b"/><stop offset="0.4903" stop-color="#ae9979"/><stop offset="0.4924" stop-color="#aa9575"/><stop offset="0.4946" stop-color="#ab9676"/><stop offset="0.4968" stop-color="#af9b7a"/><stop offset="0.4989" stop-color="#ad9878"/><stop offset="0.5011" stop-color="#a99474"/><stop offset="0.5032" stop-color="#a89373"/><stop offset="0.5054" stop-color="#ac9777"/><stop offset="0.5076" stop-color="#ad9878"/><stop offset="0.5097" stop-color="#ae9979"/><stop offset="0.5119" stop-color="#a99474"/><stop offset="0.5140" stop-color="#ab9676"/><stop offset="0.5162" stop-color="#ae9979"/><stop offset="0.5184" stop-color="#b09b7b"/><stop offset="0.5205" stop-color="#b09b7b"/><stop offset="0.5227" stop-color="#ac9777"/><stop offset="0.5248" stop-color="#ab9676"/><stop offset="0.5270" stop-color="#ac9777"/><stop offset="0.5292" stop-color="#ad9878"/><stop offset="0.5313" stop-color="#ab9676"/><stop offset="0.5335" stop-color="#a99474"/><stop offset="0.5356" stop-color="#a89373"/><stop offset="0.5378" stop-color="#ad9778"/><stop offset="0.5400" stop-color="#ad9878"/><stop offset="0.5421" stop-color="#ac9777"/><stop offset="0.5443" stop-color="#a79272"/><stop offset="0.5464" stop-color="#a89273"/><stop offset="0.5486" stop-color="#ac9777"/><stop offset="0.5508" stop-color="#ad9878"/><stop offset="0.5529" stop-color="#ad9878"/><stop offset="0.5551" stop-color="#ac9777"/><stop offset="0.5572" stop-color="#ac9777"/><stop offset="0.5594" stop-color="#b09b7b"/><stop offset="0.5616" stop-color="#b29d7d"/><stop offset="0.5637" stop-color="#ad9878"/><stop offset="0.5659" stop-color="#ab9676"/><stop offset="0.5680" stop-color="#ab9676"/><stop offset="0.5702" stop-color="#ae9979"/><stop offset="0.5724" stop-color="#b09b7b"/><stop offset="0.5745" stop-color="#ae9979"/><stop offset="0.5767" stop-color="#aa9575"/><stop offset="0.5788" stop-color="#aa9575"/><stop offset="0.5810" stop-color="#ad9878"/><stop offset="0.5832" stop-color="#af9a7a"/><stop offset="0.5853" stop-color="#ac9777"/><stop offset="0.5875" stop-color="#aa9575"/><stop offset="0.5896" stop-color="#ab9676"/><stop offset="0.5918" stop-color="#b09c7b"/><stop offset="0.5940" stop-color="#b39e7e"/><stop offset="0.5961" stop-color="#af9a7a"/><stop offset="0.5983" stop-color="#ab9676"/><stop offset="0.6004" stop-color="#ab9676"/><stop offset="0.6026" stop-color="#af9a7a"/><stop offset="0.6048" stop-color="#b29d7d"/><stop offset="0.6069" stop-color="#b09b7b"/><stop offset="0.6091" stop-color="#af9a7a"/><stop offset="0.6112" stop-color="#ad9878"/><stop offset="0.6134" stop-color="#af9a7a"/><stop offset="0.6156" stop-color="#b19c7c"/><stop offset="0.6177" stop-color="#ad9878"/><stop offset="0.6199" stop-color="#aa9575"/><stop offset="0.6220" stop-color="#a99474"/><stop offset="0.6242" stop-color="#ae9979"/><stop offset="0.6263" stop-color="#af9a7a"/><stop offset="0.6285" stop-color="#ae9979"/><stop offset="0.6307" stop-color="#aa9575"/><stop offset="0.6328" stop-color="#ac9777"/><stop offset="0.6350" stop-color="#ab9676"/><stop offset="0.6371" stop-color="#ab9676"/><stop offset="0.6393" stop-color="#a89373"/><stop offset="0.6415" stop-color="#a89373"/><stop offset="0.6436" stop-color="#a99374"/><stop offset="0.6458" stop-color="#ad9878"/><stop offset="0.6479" stop-color="#b19c7c"/><stop offset="0.6501" stop-color="#ad9778"/><stop offset="0.6523" stop-color="#ab9676"/><stop offset="0.6544" stop-color="#ac9777"/><stop offset="0.6566" stop-color="#af9a7a"/><stop offset="0.6587" stop-color="#b19c7c"/><stop offset="0.6609" stop-color="#ad9878"/><stop offset="0.6631" stop-color="#ab9676"/><stop offset="0.6652" stop-color="#ae9979"/><stop offset="0.6674" stop-color="#b09b7b"/><stop offset="0.6695" stop-color="#af9a7a"/><stop offset="0.6717" stop-color="#a99374"/><stop offset="0.6739" stop-color="#a79272"/><stop offset="0.6760" stop-color="#a79272"/><stop offset="0.6782" stop-color="#ab9676"/><stop offset="0.6803" stop-color="#ab9676"/><stop offset="0.6825" stop-color="#a89373"/><stop offset="0.6847" stop-color="#a59070"/><stop offset="0.6868" stop-color="#a89373"/><stop offset="0.6890" stop-color="#aa9575"/><stop offset="0.6911" stop-color="#ab9576"/><stop offset="0.6933" stop-color="#a89373"/><stop offset="0.6955" stop-color="#a69071"/><stop offset="0.6976" stop-color="#a99474"/><stop offset="0.6998" stop-color="#ad9878"/><stop offset="0.7019" stop-color="#af9a7a"/><stop offset="0.7041" stop-color="#ac9777"/><stop offset="0.7063" stop-color="#a89373"/><stop offset="0.7084" stop-color="#a99474"/><stop offset="0.7106" stop-color="#ad9878"/><stop offset="0.7127" stop-color="#ac9777"/><stop offset="0.7149" stop-color="#a99474"/><stop offset="0.7171" stop-color="#a99474"/><stop offset="0.7192" stop-color="#ab9676"/><stop offset="0.7214" stop-color="#ae9979"/><stop offset="0.7235" stop-color="#ac9777"/><stop offset="0.7257" stop-color="#aa9575"/><stop offset="0.7279" stop-color="#a79272"/><stop offset="0.7300" stop-color="#a99374"/><stop offset="0.7322" stop-color="#ac9777"/><stop offset="0.7343" stop-color="#ae9979"/><stop offset="0.7365" stop-color="#ac9777"/><stop offset="0.7387" stop-color="#a99474"/><stop offset="0.7408" stop-color="#ab9676"/><stop offset="0.7430" stop-color="#b09b7b"/><stop offset="0.7451" stop-color="#af9a7a"/><stop offset="0.7473" stop-color="#a99474"/><stop offset="0.7495" stop-color="#a89373"/><stop offset="0.7516" stop-color="#a99374"/><stop offset="0.7538" stop-color="#ac9777"/><stop offset="0.7559" stop-color="#ab9676"/><stop offset="0.7581" stop-color="#a89373"/><stop offset="0.7603" stop-color="#a69171"/><stop offset="0.7624" stop-color="#a58f70"/><stop offset="0.7646" stop-color="#a99474"/><stop offset="0.7667" stop-color="#a79272"/><stop offset="0.7689" stop-color="#a48f6f"/><stop offset="0.7711" stop-color="#a18c6c"/><stop offset="0.7732" stop-color="#a38e6e"/><stop offset="0.7754" stop-color="#a69171"/><stop offset="0.7775" stop-color="#a48f6f"/><stop offset="0.7797" stop-color="#a18c6c"/><stop offset="0.7819" stop-color="#a08a6b"/><stop offset="0.7840" stop-color="#a69071"/><stop offset="0.7862" stop-color="#a89373"/><stop offset="0.7883" stop-color="#a99474"/><stop offset="0.7905" stop-color="#a69171"/><stop offset="0.7927" stop-color="#a79272"/><stop offset="0.7948" stop-color="#ac9777"/><stop offset="0.7970" stop-color="#af9a7a"/><stop offset="0.7991" stop-color="#ad9878"/><stop offset="0.8013" stop-color="#aa9575"/><stop offset="0.8035" stop-color="#aa9575"/><stop offset="0.8056" stop-color="#ac9777"/><stop offset="0.8078" stop-color="#b19c7c"/><stop offset="0.8099" stop-color="#af9a7a"/><stop offset="0.8121" stop-color="#ab9676"/><stop offset="0.8143" stop-color="#ac9777"/><stop offset="0.8164" stop-color="#b09b7b"/><stop offset="0.8186" stop-color="#b09b7b"/><stop offset="0.8207" stop-color="#b09b7b"/><stop offset="0.8229" stop-color="#ac9777"/><stop offset="0.8251" stop-color="#aa9575"/><stop offset="0.8272" stop-color="#ac9777"/><stop offset="0.8294" stop-color="#ac9777"/><stop offset="0.8315" stop-color="#ad9878"/><stop offset="0.8337" stop-color="#a99474"/><stop offset="0.8359" stop-color="#a89373"/><stop offset="0.8380" stop-color="#ad9878"/><stop offset="0.8402" stop-color="#b09b7b"/><stop offset="0.8423" stop-color="#ac9777"/><stop offset="0.8445" stop-color="#a69171"/><stop offset="0.8467" stop-color="#a89373"/><stop offset="0.8488" stop-color="#aa9575"/><stop offset="0.8510" stop-color="#ac9777"/><stop offset="0.8531" stop-color="#a99474"/><stop offset="0.8553" stop-color="#a69071"/><stop offset="0.8575" stop-color="#a79272"/><stop offset="0.8596" stop-color="#ac9777"/><stop offset="0.8618" stop-color="#ad9878"/><stop offset="0.8639" stop-color="#ad9878"/><stop offset="0.8661" stop-color="#a89373"/><stop offset="0.8683" stop-color="#a89373"/><stop offset="0.8704" stop-color="#ac9777"/><stop offset="0.8726" stop-color="#ae9979"/><stop offset="0.8747" stop-color="#ab9676"/><stop offset="0.8769" stop-color="#a89373"/><stop offset="0.8790" stop-color="#a99474"/><stop offset="0.8812" stop-color="#ae9979"/><stop offset="0.8834" stop-color="#b09b7b"/><stop offset="0.8855" stop-color="#af9a7a"/><stop offset="0.8877" stop-color="#ad9878"/><stop offset="0.8898" stop-color="#ae9979"/><stop offset="0.8920" stop-color="#b09b7b"/><stop offset="0.8942" stop-color="#b19c7c"/><stop offset="0.8963" stop-color="#af9a7a"/><stop offset="0.8985" stop-color="#aa9575"/><stop offset="0.9006" stop-color="#ab9676"/><stop offset="0.9028" stop-color="#ab9676"/><stop offset="0.9050" stop-color="#af9a7a"/><stop offset="0.9071" stop-color="#ab9676"/><stop offset="0.9093" stop-color="#a99474"/><stop offset="0.9114" stop-color="#a69171"/><stop offset="0.9136" stop-color="#aa9575"/><stop offset="0.9158" stop-color="#ac9777"/><stop offset="0.9179" stop-color="#a79272"/><stop offset="0.9201" stop-color="#a48e6f"/><stop offset="0.9222" stop-color="#a59070"/><stop offset="0.9244" stop-color="#a89373"/><stop offset="0.9266" stop-color="#a89373"/><stop offset="0.9287" stop-color="#a48f6f"/><stop offset="0.9309" stop-color="#a38e6e"/><stop offset="0.9330" stop-color="#a59070"/><stop offset="0.9352" stop-color="#a99474"/><stop offset="0.9374" stop-color="#a99474"/><stop offset="0.9395" stop-color="#a69071"/><stop offset="0.9417" stop-color="#a48e6f"/><stop offset="0.9438" stop-color="#a59070"/><stop offset="0.9460" stop-color="#a89373"/><stop offset="0.9482" stop-color="#ab9576"/><stop offset="0.9503" stop-color="#a89373"/><stop offset="0.9525" stop-color="#a59070"/><stop offset="0.9546" stop-color="#a99474"/><stop offset="0.9568" stop-color="#ae9979"/><stop offset="0.9590" stop-color="#b09b7b"/><stop offset="0.9611" stop-color="#ac9777"/><stop offset="0.9633" stop-color="#a79272"/><stop offset="0.9654" stop-color="#ab9676"/><stop offset="0.9676" stop-color="#af9a7a"/><stop offset="0.9698" stop-color="#af9a7a"/><stop offset="0.9719" stop-color="#ac9777"/><stop offset="0.9741" stop-color="#a99474"/><stop offset="0.9762" stop-color="#aa9575"/><stop offset="0.9784" stop-color="#af9a7a"/><stop offset="0.9806" stop-color="#ae9979"/><stop offset="0.9827" stop-color="#ad9878"/><stop offset="0.9849" stop-color="#aa9575"/><stop offset="0.9870" stop-color="#ab9676"/><stop offset="0.9892" stop-color="#b09b7b"/><stop offset="0.9914" stop-color="#b29d7d"/><stop offset="0.9935" stop-color="#af9a7a"/><stop offset="0.9957" stop-color="#ac9777"/><stop offset="0.9978" stop-color="#ac9777"/><stop offset="1.0000" stop-color="#af9a7a"/></linearGradient><clipPath id="clipL"><rect x="12" y="109" width="405" height="463"/></clipPath><clipPath id="clipR"><rect x="417" y="109" width="421" height="463"/></clipPath><linearGradient id="ffR" x1="0" y1="342" x2="0" y2="410" gradientUnits="userSpaceOnUse"><stop offset="0" stop-color="#d2d2d2"/><stop offset="0.12" stop-color="#c9c9c9"/><stop offset="1" stop-color="#c4c4c4"/></linearGradient><linearGradient id="wallL" x1="200" y1="0" x2="340" y2="0" gradientUnits="userSpaceOnUse"><stop offset="0" stop-color="#d0d0d0"/><stop offset="1" stop-color="#d6d6d6"/></linearGradient><clipPath id="clipP"><rect x="12" y="109" width="825" height="463" rx="5.5"/></clipPath><filter id="tb" x="-10%" y="-30%" width="120%" height="160%"><feGaussianBlur stdDeviation="0.85"/></filter><filter id="fs" x="-5%" y="-5%" width="110%" height="110%"><feGaussianBlur stdDeviation="1.2"/></filter></defs><path d="M6.0,103.0 A26,26 0 0 1 20.5,103.0 A26,26 0 0 1 48.3,103.0 A26,26 0 0 1 76.1,103.0 A26,26 0 0 1 104.0,103.0 A26,26 0 0 1 131.8,103.0 A26,26 0 0 1 159.6,103.0 A26,26 0 0 1 187.4,103.0 A26,26 0 0 1 215.2,103.0 A26,26 0 0 1 243.1,103.0 A26,26 0 0 1 270.9,103.0 A26,26 0 0 1 298.7,103.0 A26,26 0 0 1 326.5,103.0 A26,26 0 0 1 354.3,103.0 A26,26 0 0 1 382.2,103.0 A26,26 0 0 1 410.0,103.0 A26,26 0 0 1 437.8,103.0 A26,26 0 0 1 465.6,103.0 A26,26 0 0 1 493.4,103.0 A26,26 0 0 1 521.3,103.0 A26,26 0 0 1 549.1,103.0 A26,26 0 0 1 576.9,103.0 A26,26 0 0 1 604.7,103.0 A26,26 0 0 1 632.5,103.0 A26,26 0 0 1 660.4,103.0 A26,26 0 0 1 688.2,103.0 A26,26 0 0 1 716.0,103.0 A26,26 0 0 1 743.8,103.0 A26,26 0 0 1 771.6,103.0 A26,26 0 0 1 799.5,103.0 A26,26 0 0 1 827.3,103.0 A26,26 0 0 1 843.0,103.0 A26,26 0 0 1 843.0,118.5 A26,26 0 0 1 843.0,146.3 A26,26 0 0 1 843.0,174.1 A26,26 0 0 1 843.0,201.8 A26,26 0 0 1 843.0,229.6 A26,26 0 0 1 843.0,257.4 A26,26 0 0 1 843.0,285.2 A26,26 0 0 1 843.0,313.0 A26,26 0 0 1 843.0,340.7 A26,26 0 0 1 843.0,368.5 A26,26 0 0 1 843.0,396.3 A26,26 0 0 1 843.0,424.1 A26,26 0 0 1 843.0,451.9 A26,26 0 0 1 843.0,479.6 A26,26 0 0 1 843.0,507.4 A26,26 0 0 1 843.0,535.2 A26,26 0 0 1 843.0,563.0 A26,26 0 0 1 843.0,577.0 A26,26 0 0 1 827.3,577.0 A26,26 0 0 1 799.5,577.0 A26,26 0 0 1 771.6,577.0 A26,26 0 0 1 743.8,577.0 A26,26 0 0 1 716.0,577.0 A26,26 0 0 1 688.2,577.0 A26,26 0 0 1 660.4,577.0 A26,26 0 0 1 632.5,577.0 A26,26 0 0 1 604.7,577.0 A26,26 0 0 1 576.9,577.0 A26,26 0 0 1 549.1,577.0 A26,26 0 0 1 521.3,577.0 A26,26 0 0 1 493.4,577.0 A26,26 0 0 1 465.6,577.0 A26,26 0 0 1 437.8,577.0 A26,26 0 0 1 410.0,577.0 A26,26 0 0 1 382.2,577.0 A26,26 0 0 1 354.3,577.0 A26,26 0 0 1 326.5,577.0 A26,26 0 0 1 298.7,577.0 A26,26 0 0 1 270.9,577.0 A26,26 0 0 1 243.1,577.0 A26,26 0 0 1 215.2,577.0 A26,26 0 0 1 187.4,577.0 A26,26 0 0 1 159.6,577.0 A26,26 0 0 1 131.8,577.0 A26,26 0 0 1 104.0,577.0 A26,26 0 0 1 76.1,577.0 A26,26 0 0 1 48.3,577.0 A26,26 0 0 1 20.5,577.0 A26,26 0 0 1 6.0,577.0 A26,26 0 0 1 6.0,563.0 A26,26 0 0 1 6.0,535.2 A26,26 0 0 1 6.0,507.4 A26,26 0 0 1 6.0,479.6 A26,26 0 0 1 6.0,451.9 A26,26 0 0 1 6.0,424.1 A26,26 0 0 1 6.0,396.3 A26,26 0 0 1 6.0,368.5 A26,26 0 0 1 6.0,340.7 A26,26 0 0 1 6.0,313.0 A26,26 0 0 1 6.0,285.2 A26,26 0 0 1 6.0,257.4 A26,26 0 0 1 6.0,229.6 A26,26 0 0 1 6.0,201.8 A26,26 0 0 1 6.0,174.1 A26,26 0 0 1 6.0,146.3 A26,26 0 0 1 6.0,118.5 A26,26 0 0 1 6.0,103.0 Z" fill="none" stroke="#b8b8b8" stroke-width="1.8" transform="translate(0.4,0.9)" filter="url(#fs)"/><path d="M6.0,103.0 A26,26 0 0 1 20.5,103.0 A26,26 0 0 1 48.3,103.0 A26,26 0 0 1 76.1,103.0 A26,26 0 0 1 104.0,103.0 A26,26 0 0 1 131.8,103.0 A26,26 0 0 1 159.6,103.0 A26,26 0 0 1 187.4,103.0 A26,26 0 0 1 215.2,103.0 A26,26 0 0 1 243.1,103.0 A26,26 0 0 1 270.9,103.0 A26,26 0 0 1 298.7,103.0 A26,26 0 0 1 326.5,103.0 A26,26 0 0 1 354.3,103.0 A26,26 0 0 1 382.2,103.0 A26,26 0 0 1 410.0,103.0 A26,26 0 0 1 437.8,103.0 A26,26 0 0 1 465.6,103.0 A26,26 0 0 1 493.4,103.0 A26,26 0 0 1 521.3,103.0 A26,26 0 0 1 549.1,103.0 A26,26 0 0 1 576.9,103.0 A26,26 0 0 1 604.7,103.0 A26,26 0 0 1 632.5,103.0 A26,26 0 0 1 660.4,103.0 A26,26 0 0 1 688.2,103.0 A26,26 0 0 1 716.0,103.0 A26,26 0 0 1 743.8,103.0 A26,26 0 0 1 771.6,103.0 A26,26 0 0 1 799.5,103.0 A26,26 0 0 1 827.3,103.0 A26,26 0 0 1 843.0,103.0 A26,26 0 0 1 843.0,118.5 A26,26 0 0 1 843.0,146.3 A26,26 0 0 1 843.0,174.1 A26,26 0 0 1 843.0,201.8 A26,26 0 0 1 843.0,229.6 A26,26 0 0 1 843.0,257.4 A26,26 0 0 1 843.0,285.2 A26,26 0 0 1 843.0,313.0 A26,26 0 0 1 843.0,340.7 A26,26 0 0 1 843.0,368.5 A26,26 0 0 1 843.0,396.3 A26,26 0 0 1 843.0,424.1 A26,26 0 0 1 843.0,451.9 A26,26 0 0 1 843.0,479.6 A26,26 0 0 1 843.0,507.4 A26,26 0 0 1 843.0,535.2 A26,26 0 0 1 843.0,563.0 A26,26 0 0 1 843.0,577.0 A26,26 0 0 1 827.3,577.0 A26,26 0 0 1 799.5,577.0 A26,26 0 0 1 771.6,577.0 A26,26 0 0 1 743.8,577.0 A26,26 0 0 1 716.0,577.0 A26,26 0 0 1 688.2,577.0 A26,26 0 0 1 660.4,577.0 A26,26 0 0 1 632.5,577.0 A26,26 0 0 1 604.7,577.0 A26,26 0 0 1 576.9,577.0 A26,26 0 0 1 549.1,577.0 A26,26 0 0 1 521.3,577.0 A26,26 0 0 1 493.4,577.0 A26,26 0 0 1 465.6,577.0 A26,26 0 0 1 437.8,577.0 A26,26 0 0 1 410.0,577.0 A26,26 0 0 1 382.2,577.0 A26,26 0 0 1 354.3,577.0 A26,26 0 0 1 326.5,577.0 A26,26 0 0 1 298.7,577.0 A26,26 0 0 1 270.9,577.0 A26,26 0 0 1 243.1,577.0 A26,26 0 0 1 215.2,577.0 A26,26 0 0 1 187.4,577.0 A26,26 0 0 1 159.6,577.0 A26,26 0 0 1 131.8,577.0 A26,26 0 0 1 104.0,577.0 A26,26 0 0 1 76.1,577.0 A26,26 0 0 1 48.3,577.0 A26,26 0 0 1 20.5,577.0 A26,26 0 0 1 6.0,577.0 A26,26 0 0 1 6.0,563.0 A26,26 0 0 1 6.0,535.2 A26,26 0 0 1 6.0,507.4 A26,26 0 0 1 6.0,479.6 A26,26 0 0 1 6.0,451.9 A26,26 0 0 1 6.0,424.1 A26,26 0 0 1 6.0,396.3 A26,26 0 0 1 6.0,368.5 A26,26 0 0 1 6.0,340.7 A26,26 0 0 1 6.0,313.0 A26,26 0 0 1 6.0,285.2 A26,26 0 0 1 6.0,257.4 A26,26 0 0 1 6.0,229.6 A26,26 0 0 1 6.0,201.8 A26,26 0 0 1 6.0,174.1 A26,26 0 0 1 6.0,146.3 A26,26 0 0 1 6.0,118.5 A26,26 0 0 1 6.0,103.0 Z" fill="#ffffff" stroke="#d2d2d2" stroke-width="1.2"/><g fill="#b4b4b4"><circle cx="18.1" cy="103.3" r="0.9"/><circle cx="18.1" cy="576.7" r="0.9"/><circle cx="22.9" cy="103.3" r="0.9"/><circle cx="22.9" cy="576.7" r="0.9"/><circle cx="45.9" cy="103.3" r="0.9"/><circle cx="45.9" cy="576.7" r="0.9"/><circle cx="50.7" cy="103.3" r="0.9"/><circle cx="50.7" cy="576.7" r="0.9"/><circle cx="73.7" cy="103.3" r="0.9"/><circle cx="73.7" cy="576.7" r="0.9"/><circle cx="78.5" cy="103.3" r="0.9"/><circle cx="78.5" cy="576.7" r="0.9"/><circle cx="101.6" cy="103.3" r="0.9"/><circle cx="101.6" cy="576.7" r="0.9"/><circle cx="106.4" cy="103.3" r="0.9"/><circle cx="106.4" cy="576.7" r="0.9"/><circle cx="129.4" cy="103.3" r="0.9"/><circle cx="129.4" cy="576.7" r="0.9"/><circle cx="134.2" cy="103.3" r="0.9"/><circle cx="134.2" cy="576.7" r="0.9"/><circle cx="157.2" cy="103.3" r="0.9"/><circle cx="157.2" cy="576.7" r="0.9"/><circle cx="162.0" cy="103.3" r="0.9"/><circle cx="162.0" cy="576.7" r="0.9"/><circle cx="185.0" cy="103.3" r="0.9"/><circle cx="185.0" cy="576.7" r="0.9"/><circle cx="189.8" cy="103.3" r="0.9"/><circle cx="189.8" cy="576.7" r="0.9"/><circle cx="212.8" cy="103.3" r="0.9"/><circle cx="212.8" cy="576.7" r="0.9"/><circle cx="217.6" cy="103.3" r="0.9"/><circle cx="217.6" cy="576.7" r="0.9"/><circle cx="240.7" cy="103.3" r="0.9"/><circle cx="240.7" cy="576.7" r="0.9"/><circle cx="245.5" cy="103.3" r="0.9"/><circle cx="245.5" cy="576.7" r="0.9"/><circle cx="268.5" cy="103.3" r="0.9"/><circle cx="268.5" cy="576.7" r="0.9"/><circle cx="273.3" cy="103.3" r="0.9"/><circle cx="273.3" cy="576.7" r="0.9"/><circle cx="296.3" cy="103.3" r="0.9"/><circle cx="296.3" cy="576.7" r="0.9"/><circle cx="301.1" cy="103.3" r="0.9"/><circle cx="301.1" cy="576.7" r="0.9"/><circle cx="324.1" cy="103.3" r="0.9"/><circle cx="324.1" cy="576.7" r="0.9"/><circle cx="328.9" cy="103.3" r="0.9"/><circle cx="328.9" cy="576.7" r="0.9"/><circle cx="351.9" cy="103.3" r="0.9"/><circle cx="351.9" cy="576.7" r="0.9"/><circle cx="356.7" cy="103.3" r="0.9"/><circle cx="356.7" cy="576.7" r="0.9"/><circle cx="379.8" cy="103.3" r="0.9"/><circle cx="379.8" cy="576.7" r="0.9"/><circle cx="384.6" cy="103.3" r="0.9"/><circle cx="384.6" cy="576.7" r="0.9"/><circle cx="407.6" cy="103.3" r="0.9"/><circle cx="407.6" cy="576.7" r="0.9"/><circle cx="412.4" cy="103.3" r="0.9"/><circle cx="412.4" cy="576.7" r="0.9"/><circle cx="435.4" cy="103.3" r="0.9"/><circle cx="435.4" cy="576.7" r="0.9"/><circle cx="440.2" cy="103.3" r="0.9"/><circle cx="440.2" cy="576.7" r="0.9"/><circle cx="463.2" cy="103.3" r="0.9"/><circle cx="463.2" cy="576.7" r="0.9"/><circle cx="468.0" cy="103.3" r="0.9"/><circle cx="468.0" cy="576.7" r="0.9"/><circle cx="491.0" cy="103.3" r="0.9"/><circle cx="491.0" cy="576.7" r="0.9"/><circle cx="495.8" cy="103.3" r="0.9"/><circle cx="495.8" cy="576.7" r="0.9"/><circle cx="518.9" cy="103.3" r="0.9"/><circle cx="518.9" cy="576.7" r="0.9"/><circle cx="523.7" cy="103.3" r="0.9"/><circle cx="523.7" cy="576.7" r="0.9"/><circle cx="546.7" cy="103.3" r="0.9"/><circle cx="546.7" cy="576.7" r="0.9"/><circle cx="551.5" cy="103.3" r="0.9"/><circle cx="551.5" cy="576.7" r="0.9"/><circle cx="574.5" cy="103.3" r="0.9"/><circle cx="574.5" cy="576.7" r="0.9"/><circle cx="579.3" cy="103.3" r="0.9"/><circle cx="579.3" cy="576.7" r="0.9"/><circle cx="602.3" cy="103.3" r="0.9"/><circle cx="602.3" cy="576.7" r="0.9"/><circle cx="607.1" cy="103.3" r="0.9"/><circle cx="607.1" cy="576.7" r="0.9"/><circle cx="630.1" cy="103.3" r="0.9"/><circle cx="630.1" cy="576.7" r="0.9"/><circle cx="634.9" cy="103.3" r="0.9"/><circle cx="634.9" cy="576.7" r="0.9"/><circle cx="658.0" cy="103.3" r="0.9"/><circle cx="658.0" cy="576.7" r="0.9"/><circle cx="662.8" cy="103.3" r="0.9"/><circle cx="662.8" cy="576.7" r="0.9"/><circle cx="685.8" cy="103.3" r="0.9"/><circle cx="685.8" cy="576.7" r="0.9"/><circle cx="690.6" cy="103.3" r="0.9"/><circle cx="690.6" cy="576.7" r="0.9"/><circle cx="713.6" cy="103.3" r="0.9"/><circle cx="713.6" cy="576.7" r="0.9"/><circle cx="718.4" cy="103.3" r="0.9"/><circle cx="718.4" cy="576.7" r="0.9"/><circle cx="741.4" cy="103.3" r="0.9"/><circle cx="741.4" cy="576.7" r="0.9"/><circle cx="746.2" cy="103.3" r="0.9"/><circle cx="746.2" cy="576.7" r="0.9"/><circle cx="769.2" cy="103.3" r="0.9"/><circle cx="769.2" cy="576.7" r="0.9"/><circle cx="774.0" cy="103.3" r="0.9"/><circle cx="774.0" cy="576.7" r="0.9"/><circle cx="797.1" cy="103.3" r="0.9"/><circle cx="797.1" cy="576.7" r="0.9"/><circle cx="801.9" cy="103.3" r="0.9"/><circle cx="801.9" cy="576.7" r="0.9"/><circle cx="824.9" cy="103.3" r="0.9"/><circle cx="824.9" cy="576.7" r="0.9"/><circle cx="829.7" cy="103.3" r="0.9"/><circle cx="829.7" cy="576.7" r="0.9"/><circle cx="6.3" cy="116.1" r="0.9"/><circle cx="842.7" cy="116.1" r="0.9"/><circle cx="6.3" cy="120.9" r="0.9"/><circle cx="842.7" cy="120.9" r="0.9"/><circle cx="6.3" cy="143.9" r="0.9"/><circle cx="842.7" cy="143.9" r="0.9"/><circle cx="6.3" cy="148.7" r="0.9"/><circle cx="842.7" cy="148.7" r="0.9"/><circle cx="6.3" cy="171.7" r="0.9"/><circle cx="842.7" cy="171.7" r="0.9"/><circle cx="6.3" cy="176.5" r="0.9"/><circle cx="842.7" cy="176.5" r="0.9"/><circle cx="6.3" cy="199.4" r="0.9"/><circle cx="842.7" cy="199.4" r="0.9"/><circle cx="6.3" cy="204.2" r="0.9"/><circle cx="842.7" cy="204.2" r="0.9"/><circle cx="6.3" cy="227.2" r="0.9"/><circle cx="842.7" cy="227.2" r="0.9"/><circle cx="6.3" cy="232.0" r="0.9"/><circle cx="842.7" cy="232.0" r="0.9"/><circle cx="6.3" cy="255.0" r="0.9"/><circle cx="842.7" cy="255.0" r="0.9"/><circle cx="6.3" cy="259.8" r="0.9"/><circle cx="842.7" cy="259.8" r="0.9"/><circle cx="6.3" cy="282.8" r="0.9"/><circle cx="842.7" cy="282.8" r="0.9"/><circle cx="6.3" cy="287.6" r="0.9"/><circle cx="842.7" cy="287.6" r="0.9"/><circle cx="6.3" cy="310.6" r="0.9"/><circle cx="842.7" cy="310.6" r="0.9"/><circle cx="6.3" cy="315.4" r="0.9"/><circle cx="842.7" cy="315.4" r="0.9"/><circle cx="6.3" cy="338.3" r="0.9"/><circle cx="842.7" cy="338.3" r="0.9"/><circle cx="6.3" cy="343.1" r="0.9"/><circle cx="842.7" cy="343.1" r="0.9"/><circle cx="6.3" cy="366.1" r="0.9"/><circle cx="842.7" cy="366.1" r="0.9"/><circle cx="6.3" cy="370.9" r="0.9"/><circle cx="842.7" cy="370.9" r="0.9"/><circle cx="6.3" cy="393.9" r="0.9"/><circle cx="842.7" cy="393.9" r="0.9"/><circle cx="6.3" cy="398.7" r="0.9"/><circle cx="842.7" cy="398.7" r="0.9"/><circle cx="6.3" cy="421.7" r="0.9"/><circle cx="842.7" cy="421.7" r="0.9"/><circle cx="6.3" cy="426.5" r="0.9"/><circle cx="842.7" cy="426.5" r="0.9"/><circle cx="6.3" cy="449.5" r="0.9"/><circle cx="842.7" cy="449.5" r="0.9"/><circle cx="6.3" cy="454.3" r="0.9"/><circle cx="842.7" cy="454.3" r="0.9"/><circle cx="6.3" cy="477.2" r="0.9"/><circle cx="842.7" cy="477.2" r="0.9"/><circle cx="6.3" cy="482.0" r="0.9"/><circle cx="842.7" cy="482.0" r="0.9"/><circle cx="6.3" cy="505.0" r="0.9"/><circle cx="842.7" cy="505.0" r="0.9"/><circle cx="6.3" cy="509.8" r="0.9"/><circle cx="842.7" cy="509.8" r="0.9"/><circle cx="6.3" cy="532.8" r="0.9"/><circle cx="842.7" cy="532.8" r="0.9"/><circle cx="6.3" cy="537.6" r="0.9"/><circle cx="842.7" cy="537.6" r="0.9"/><circle cx="6.3" cy="560.6" r="0.9"/><circle cx="842.7" cy="560.6" r="0.9"/><circle cx="6.3" cy="565.4" r="0.9"/><circle cx="842.7" cy="565.4" r="0.9"/></g><g clip-path="url(#clipP)"><rect x="12" y="109" width="405" height="463" fill="url(#woodL)"/><rect x="417" y="109" width="421" height="463" fill="url(#woodR)"/><g clip-path="url(#clipL)"><rect x="306" y="397.4" width="203" height="2.1" fill="#c8b292" opacity="0.33"/><rect x="372" y="122.4" width="142" height="2.4" fill="#c8b292" opacity="0.17"/><rect x="194" y="326.2" width="94" height="0.8" fill="#6e5840" opacity="0.10"/><rect x="293" y="238.4" width="242" height="1.2" fill="#6e5840" opacity="0.09"/><rect x="-47" y="394.9" width="68" height="1.3" fill="#c8b292" opacity="0.19"/><rect x="81" y="563.9" width="232" height="1.8" fill="#c8b292" opacity="0.29"/><rect x="259" y="203.8" width="247" height="2.3" fill="#c8b292" opacity="0.21"/><rect x="17" y="276.2" width="77" height="1.0" fill="#6e5840" opacity="0.14"/><rect x="102" y="110.6" width="189" height="1.2" fill="#6e5840" opacity="0.13"/><rect x="266" y="255.2" width="146" height="1.3" fill="#6e5840" opacity="0.08"/><rect x="-40" y="456.2" width="226" height="1.5" fill="#c8b292" opacity="0.27"/><rect x="33" y="113.2" width="50" height="1.3" fill="#c8b292" opacity="0.30"/><rect x="105" y="539.4" width="247" height="1.1" fill="#6e5840" opacity="0.16"/><rect x="307" y="159.0" width="205" height="1.1" fill="#c8b292" opacity="0.34"/><rect x="224" y="151.2" width="115" height="1.5" fill="#c8b292" opacity="0.33"/><rect x="93" y="361.4" width="109" height="0.8" fill="#6e5840" opacity="0.09"/><rect x="24" y="428.1" width="259" height="1.3" fill="#6e5840" opacity="0.13"/><rect x="216" y="296.9" width="92" height="1.7" fill="#c8b292" opacity="0.23"/><rect x="-33" y="134.8" width="242" height="1.2" fill="#6e5840" opacity="0.09"/><rect x="233" y="447.8" width="249" height="1.2" fill="#c8b292" opacity="0.24"/><rect x="83" y="178.1" width="226" height="1.3" fill="#6e5840" opacity="0.17"/><rect x="169" y="560.9" width="140" height="1.7" fill="#c8b292" opacity="0.21"/><rect x="120" y="296.0" width="72" height="2.4" fill="#c8b292" opacity="0.28"/><rect x="-8" y="340.2" width="114" height="1.2" fill="#6e5840" opacity="0.17"/><rect x="297" y="276.3" width="213" height="2.0" fill="#c8b292" opacity="0.30"/><rect x="77" y="277.3" width="195" height="1.2" fill="#6e5840" opacity="0.15"/><rect x="241" y="245.1" width="248" height="0.8" fill="#6e5840" opacity="0.13"/><rect x="158" y="225.1" width="188" height="2.0" fill="#c8b292" opacity="0.31"/><rect x="280" y="270.1" width="182" height="1.5" fill="#c8b292" opacity="0.32"/><rect x="386" y="511.8" width="191" height="1.8" fill="#c8b292" opacity="0.26"/><rect x="369" y="185.9" width="224" height="1.1" fill="#6e5840" opacity="0.15"/><rect x="299" y="447.2" width="78" height="1.1" fill="#6e5840" opacity="0.12"/><rect x="235" y="397.8" width="210" height="1.0" fill="#c8b292" opacity="0.18"/><rect x="49" y="313.2" width="183" height="1.9" fill="#c8b292" opacity="0.16"/><rect x="-24" y="327.3" width="90" height="1.0" fill="#6e5840" opacity="0.10"/><rect x="159" y="198.5" width="48" height="1.1" fill="#6e5840" opacity="0.14"/><rect x="-48" y="219.1" width="239" height="0.9" fill="#6e5840" opacity="0.12"/><rect x="118" y="162.3" width="223" height="1.1" fill="#6e5840" opacity="0.09"/><rect x="210" y="361.4" width="115" height="2.2" fill="#c8b292" opacity="0.23"/><rect x="116" y="485.4" width="181" height="1.1" fill="#6e5840" opacity="0.14"/><rect x="223" y="552.2" width="253" height="1.2" fill="#6e5840" opacity="0.08"/><rect x="226" y="159.0" width="164" height="1.1" fill="#6e5840" opacity="0.17"/><rect x="53" y="283.0" width="135" height="1.3" fill="#6e5840" opacity="0.12"/><rect x="217" y="554.0" width="241" height="1.3" fill="#6e5840" opacity="0.13"/><rect x="390" y="301.4" width="110" height="0.9" fill="#6e5840" opacity="0.13"/><rect x="149" y="165.4" width="177" height="1.2" fill="#6e5840" opacity="0.16"/><rect x="74" y="115.1" width="157" height="2.2" fill="#c8b292" opacity="0.20"/><rect x="392" y="232.9" width="74" height="1.1" fill="#6e5840" opacity="0.13"/><rect x="283" y="407.6" width="173" height="1.2" fill="#6e5840" opacity="0.11"/><rect x="84" y="356.0" width="114" height="1.0" fill="#6e5840" opacity="0.12"/><rect x="-32" y="453.9" width="170" height="1.0" fill="#6e5840" opacity="0.17"/><rect x="-42" y="520.1" width="160" height="1.6" fill="#c8b292" opacity="0.27"/><rect x="166" y="436.9" width="179" height="1.6" fill="#c8b292" opacity="0.23"/><rect x="84" y="503.4" width="83" height="1.1" fill="#c8b292" opacity="0.32"/><rect x="79" y="430.6" width="135" height="2.4" fill="#c8b292" opacity="0.18"/><rect x="173" y="330.5" width="161" height="0.9" fill="#6e5840" opacity="0.14"/><rect x="54" y="484.9" width="55" height="2.2" fill="#c8b292" opacity="0.28"/><rect x="388" y="120.8" width="199" height="2.1" fill="#c8b292" opacity="0.16"/><rect x="239" y="498.9" width="88" height="2.1" fill="#c8b292" opacity="0.18"/><rect x="19" y="244.4" width="242" height="1.6" fill="#c8b292" opacity="0.18"/><rect x="0" y="397.2" width="50" height="0.8" fill="#6e5840" opacity="0.09"/><rect x="343" y="375.3" width="203" height="1.0" fill="#6e5840" opacity="0.11"/><rect x="370" y="386.9" width="148" height="0.8" fill="#6e5840" opacity="0.15"/><rect x="177" y="179.0" width="179" height="1.8" fill="#c8b292" opacity="0.27"/><rect x="65" y="230.9" width="161" height="1.8" fill="#c8b292" opacity="0.18"/><rect x="280" y="217.5" width="122" height="1.2" fill="#6e5840" opacity="0.15"/><rect x="-7" y="148.5" width="187" height="1.1" fill="#6e5840" opacity="0.10"/><rect x="96" y="515.0" width="146" height="1.0" fill="#c8b292" opacity="0.30"/><rect x="376" y="133.8" width="73" height="1.3" fill="#c8b292" opacity="0.17"/><rect x="317" y="559.4" width="186" height="1.1" fill="#6e5840" opacity="0.12"/><rect x="225" y="217.8" width="113" height="1.0" fill="#6e5840" opacity="0.09"/><rect x="310" y="493.8" width="183" height="1.2" fill="#6e5840" opacity="0.13"/><rect x="281" y="383.4" width="166" height="0.8" fill="#6e5840" opacity="0.08"/><rect x="348" y="202.7" width="49" height="1.2" fill="#6e5840" opacity="0.08"/><rect x="228" y="326.7" width="236" height="1.0" fill="#6e5840" opacity="0.09"/><rect x="119" y="180.6" width="75" height="1.2" fill="#6e5840" opacity="0.10"/><rect x="24" y="226.6" width="101" height="0.9" fill="#6e5840" opacity="0.13"/><rect x="116" y="123.9" width="243" height="2.0" fill="#c8b292" opacity="0.28"/><rect x="4" y="327.4" width="248" height="1.4" fill="#c8b292" opacity="0.28"/><rect x="41" y="446.7" width="76" height="0.9" fill="#6e5840" opacity="0.09"/><rect x="114" y="294.7" width="254" height="1.0" fill="#6e5840" opacity="0.11"/><rect x="25" y="448.1" width="198" height="1.1" fill="#6e5840" opacity="0.17"/><rect x="386" y="408.0" width="135" height="0.8" fill="#6e5840" opacity="0.16"/><rect x="196" y="298.9" width="50" height="1.8" fill="#c8b292" opacity="0.22"/><rect x="352" y="152.4" width="56" height="1.3" fill="#6e5840" opacity="0.09"/><rect x="129" y="221.7" width="51" height="0.9" fill="#6e5840" opacity="0.12"/><rect x="-31" y="250.7" width="51" height="1.3" fill="#c8b292" opacity="0.25"/><rect x="-10" y="295.3" width="157" height="0.9" fill="#6e5840" opacity="0.13"/><rect x="333" y="535.6" width="172" height="0.8" fill="#6e5840" opacity="0.13"/><rect x="120" y="334.3" width="166" height="2.1" fill="#c8b292" opacity="0.33"/><rect x="320" y="251.4" width="139" height="0.9" fill="#6e5840" opacity="0.11"/><rect x="317" y="149.6" width="210" height="0.9" fill="#6e5840" opacity="0.09"/><rect x="143" y="222.4" width="59" height="0.9" fill="#6e5840" opacity="0.09"/><rect x="41" y="433.4" width="51" height="1.0" fill="#6e5840" opacity="0.09"/><rect x="287" y="303.7" width="109" height="1.2" fill="#6e5840" opacity="0.15"/><rect x="149" y="460.7" width="166" height="2.0" fill="#c8b292" opacity="0.34"/><rect x="71" y="446.1" width="194" height="1.6" fill="#c8b292" opacity="0.18"/><rect x="69" y="139.5" width="77" height="1.4" fill="#c8b292" opacity="0.16"/><rect x="-36" y="462.6" width="163" height="0.9" fill="#6e5840" opacity="0.12"/><rect x="224" y="507.1" width="249" height="1.0" fill="#6e5840" opacity="0.12"/><rect x="212" y="262.0" width="43" height="2.1" fill="#c8b292" opacity="0.17"/><rect x="268" y="354.5" width="78" height="1.3" fill="#6e5840" opacity="0.16"/><rect x="359" y="163.7" width="110" height="1.0" fill="#6e5840" opacity="0.12"/><rect x="189" y="464.4" width="246" height="1.9" fill="#c8b292" opacity="0.17"/><rect x="-25" y="486.0" width="132" height="1.0" fill="#c8b292" opacity="0.27"/><rect x="127" y="332.2" width="234" height="0.9" fill="#6e5840" opacity="0.10"/><rect x="286" y="369.4" width="119" height="1.0" fill="#6e5840" opacity="0.10"/><rect x="330" y="563.9" width="225" height="1.6" fill="#c8b292" opacity="0.18"/><rect x="-31" y="494.1" width="148" height="0.8" fill="#6e5840" opacity="0.15"/><rect x="307" y="525.8" width="84" height="1.1" fill="#6e5840" opacity="0.17"/></g><g clip-path="url(#clipR)"><rect x="421" y="323.4" width="122" height="1.0" fill="#c8b292" opacity="0.25"/><rect x="613" y="524.9" width="58" height="1.1" fill="#c8b292" opacity="0.23"/><rect x="691" y="434.7" width="139" height="0.9" fill="#6e5840" opacity="0.09"/><rect x="629" y="343.4" width="243" height="1.6" fill="#c8b292" opacity="0.30"/><rect x="668" y="156.1" width="104" height="1.6" fill="#c8b292" opacity="0.17"/><rect x="487" y="232.5" width="86" height="1.3" fill="#c8b292" opacity="0.33"/><rect x="532" y="516.1" width="52" height="0.8" fill="#6e5840" opacity="0.12"/><rect x="632" y="528.7" width="65" height="1.1" fill="#6e5840" opacity="0.17"/><rect x="395" y="203.0" width="42" height="0.8" fill="#6e5840" opacity="0.09"/><rect x="551" y="339.0" width="243" height="1.1" fill="#6e5840" opacity="0.09"/><rect x="638" y="377.4" width="78" height="1.1" fill="#c8b292" opacity="0.26"/><rect x="481" y="389.8" width="73" height="2.5" fill="#c8b292" opacity="0.17"/><rect x="466" y="435.6" width="249" height="1.1" fill="#c8b292" opacity="0.22"/><rect x="714" y="421.1" width="170" height="1.0" fill="#6e5840" opacity="0.17"/><rect x="542" y="379.5" width="139" height="1.9" fill="#c8b292" opacity="0.15"/><rect x="557" y="479.1" width="112" height="1.0" fill="#6e5840" opacity="0.11"/><rect x="405" y="150.1" width="178" height="1.0" fill="#c8b292" opacity="0.31"/><rect x="684" y="482.9" width="149" height="1.2" fill="#6e5840" opacity="0.12"/><rect x="542" y="215.9" width="252" height="1.2" fill="#6e5840" opacity="0.12"/><rect x="746" y="418.1" width="78" height="0.8" fill="#6e5840" opacity="0.18"/><rect x="812" y="189.0" width="248" height="1.0" fill="#c8b292" opacity="0.16"/><rect x="639" y="205.6" width="126" height="1.5" fill="#c8b292" opacity="0.18"/><rect x="397" y="369.2" width="70" height="1.1" fill="#6e5840" opacity="0.09"/><rect x="709" y="318.0" width="195" height="1.2" fill="#6e5840" opacity="0.10"/><rect x="763" y="440.3" width="210" height="0.8" fill="#6e5840" opacity="0.08"/><rect x="647" y="353.9" width="78" height="1.2" fill="#6e5840" opacity="0.10"/><rect x="568" y="115.0" width="79" height="1.0" fill="#6e5840" opacity="0.10"/><rect x="604" y="332.2" width="248" height="1.0" fill="#c8b292" opacity="0.35"/><rect x="598" y="520.6" width="160" height="1.3" fill="#6e5840" opacity="0.09"/><rect x="495" y="406.6" width="159" height="2.1" fill="#c8b292" opacity="0.17"/><rect x="583" y="432.9" width="140" height="1.1" fill="#c8b292" opacity="0.27"/><rect x="464" y="281.8" width="233" height="2.1" fill="#c8b292" opacity="0.27"/><rect x="632" y="514.5" width="48" height="2.0" fill="#c8b292" opacity="0.23"/><rect x="637" y="140.9" width="82" height="0.8" fill="#6e5840" opacity="0.12"/><rect x="369" y="326.7" width="158" height="1.5" fill="#c8b292" opacity="0.31"/><rect x="629" y="113.0" width="250" height="2.5" fill="#c8b292" opacity="0.32"/><rect x="464" y="158.2" width="117" height="1.3" fill="#c8b292" opacity="0.19"/><rect x="789" y="160.2" width="66" height="1.6" fill="#c8b292" opacity="0.30"/><rect x="527" y="325.5" width="155" height="1.4" fill="#c8b292" opacity="0.20"/><rect x="559" y="348.8" width="83" height="1.0" fill="#c8b292" opacity="0.17"/><rect x="473" y="479.4" width="53" height="1.9" fill="#c8b292" opacity="0.19"/><rect x="495" y="136.1" width="101" height="2.5" fill="#c8b292" opacity="0.31"/><rect x="761" y="526.5" width="245" height="2.5" fill="#c8b292" opacity="0.17"/><rect x="636" y="256.1" width="94" height="1.0" fill="#6e5840" opacity="0.16"/><rect x="484" y="293.8" width="86" height="1.1" fill="#6e5840" opacity="0.14"/><rect x="542" y="312.7" width="81" height="0.9" fill="#6e5840" opacity="0.13"/><rect x="661" y="196.3" width="197" height="1.1" fill="#6e5840" opacity="0.11"/><rect x="708" y="316.0" width="173" height="2.1" fill="#c8b292" opacity="0.19"/><rect x="366" y="359.9" width="114" height="1.0" fill="#6e5840" opacity="0.17"/><rect x="594" y="258.9" width="223" height="1.2" fill="#6e5840" opacity="0.11"/><rect x="362" y="356.0" width="56" height="1.1" fill="#c8b292" opacity="0.18"/><rect x="737" y="184.6" width="61" height="2.0" fill="#c8b292" opacity="0.23"/><rect x="419" y="520.3" width="151" height="1.5" fill="#c8b292" opacity="0.20"/><rect x="441" y="257.4" width="125" height="2.3" fill="#c8b292" opacity="0.26"/><rect x="366" y="113.4" width="191" height="1.2" fill="#6e5840" opacity="0.15"/><rect x="483" y="529.5" width="206" height="1.0" fill="#6e5840" opacity="0.15"/><rect x="702" y="216.4" width="113" height="1.1" fill="#6e5840" opacity="0.13"/><rect x="443" y="539.1" width="46" height="2.0" fill="#c8b292" opacity="0.17"/><rect x="607" y="171.3" width="86" height="1.3" fill="#c8b292" opacity="0.19"/><rect x="747" y="426.5" width="133" height="2.4" fill="#c8b292" opacity="0.29"/><rect x="730" y="338.7" width="53" height="1.0" fill="#6e5840" opacity="0.14"/><rect x="780" y="555.4" width="162" height="1.1" fill="#c8b292" opacity="0.22"/><rect x="804" y="520.4" width="209" height="1.1" fill="#6e5840" opacity="0.17"/><rect x="806" y="358.9" width="187" height="0.8" fill="#6e5840" opacity="0.17"/><rect x="741" y="378.0" width="84" height="0.9" fill="#6e5840" opacity="0.11"/><rect x="716" y="125.7" width="129" height="1.3" fill="#6e5840" opacity="0.08"/><rect x="622" y="189.1" width="72" height="1.1" fill="#6e5840" opacity="0.13"/><rect x="721" y="377.9" width="226" height="1.2" fill="#c8b292" opacity="0.23"/><rect x="489" y="553.7" width="127" height="0.9" fill="#6e5840" opacity="0.16"/><rect x="802" y="403.5" width="61" height="0.9" fill="#6e5840" opacity="0.14"/><rect x="363" y="548.7" width="116" height="0.8" fill="#6e5840" opacity="0.13"/><rect x="452" y="253.2" width="227" height="1.0" fill="#6e5840" opacity="0.09"/><rect x="439" y="252.7" width="90" height="2.4" fill="#c8b292" opacity="0.22"/><rect x="779" y="404.7" width="111" height="0.8" fill="#6e5840" opacity="0.15"/><rect x="366" y="206.2" width="50" height="2.1" fill="#c8b292" opacity="0.22"/><rect x="392" y="367.2" width="195" height="2.1" fill="#c8b292" opacity="0.34"/><rect x="591" y="136.4" width="166" height="1.5" fill="#c8b292" opacity="0.28"/><rect x="595" y="524.3" width="117" height="1.1" fill="#c8b292" opacity="0.34"/><rect x="490" y="253.9" width="141" height="1.8" fill="#c8b292" opacity="0.30"/><rect x="735" y="157.1" width="234" height="1.3" fill="#c8b292" opacity="0.20"/><rect x="797" y="318.3" width="54" height="1.3" fill="#6e5840" opacity="0.10"/><rect x="654" y="409.1" width="216" height="0.8" fill="#6e5840" opacity="0.12"/><rect x="806" y="289.6" width="248" height="2.5" fill="#c8b292" opacity="0.18"/><rect x="361" y="122.7" width="104" height="1.1" fill="#6e5840" opacity="0.10"/><rect x="483" y="391.8" width="124" height="1.3" fill="#c8b292" opacity="0.33"/><rect x="423" y="352.9" width="186" height="2.3" fill="#c8b292" opacity="0.19"/><rect x="576" y="327.9" width="184" height="2.0" fill="#c8b292" opacity="0.21"/><rect x="571" y="424.3" width="210" height="1.1" fill="#6e5840" opacity="0.13"/><rect x="716" y="150.1" width="130" height="1.1" fill="#c8b292" opacity="0.25"/><rect x="426" y="381.1" width="157" height="2.0" fill="#c8b292" opacity="0.26"/><rect x="363" y="544.0" width="167" height="1.2" fill="#6e5840" opacity="0.09"/><rect x="710" y="555.8" width="194" height="0.8" fill="#6e5840" opacity="0.17"/><rect x="596" y="345.6" width="137" height="1.6" fill="#c8b292" opacity="0.30"/><rect x="678" y="184.0" width="256" height="1.0" fill="#6e5840" opacity="0.17"/><rect x="776" y="259.8" width="194" height="1.4" fill="#c8b292" opacity="0.31"/><rect x="389" y="390.8" width="218" height="1.0" fill="#6e5840" opacity="0.16"/><rect x="453" y="318.3" width="49" height="2.3" fill="#c8b292" opacity="0.26"/><rect x="756" y="145.9" width="210" height="1.0" fill="#6e5840" opacity="0.11"/><rect x="430" y="133.8" width="201" height="1.3" fill="#6e5840" opacity="0.09"/><rect x="473" y="460.8" width="219" height="0.9" fill="#6e5840" opacity="0.15"/><rect x="584" y="559.8" width="204" height="1.0" fill="#6e5840" opacity="0.15"/><rect x="678" y="233.7" width="94" height="1.3" fill="#6e5840" opacity="0.15"/><rect x="633" y="194.2" width="45" height="1.0" fill="#6e5840" opacity="0.14"/><rect x="609" y="483.3" width="125" height="1.2" fill="#c8b292" opacity="0.22"/><rect x="786" y="483.4" width="119" height="0.8" fill="#6e5840" opacity="0.12"/><rect x="459" y="323.9" width="121" height="1.2" fill="#6e5840" opacity="0.17"/><rect x="626" y="398.9" width="96" height="0.8" fill="#6e5840" opacity="0.16"/><rect x="735" y="232.6" width="75" height="0.9" fill="#6e5840" opacity="0.10"/><rect x="440" y="522.2" width="190" height="1.3" fill="#6e5840" opacity="0.09"/><rect x="628" y="439.9" width="192" height="1.0" fill="#6e5840" opacity="0.11"/></g><polygon points="12.0,129.0 312.0,129.0 312.0,206.0 12.0,206.0" fill="#b1b1b1" /><polygon points="12.0,129.0 312.0,129.0 311.0,131.0 12.0,131.0" fill="#bdbdbd" /><polygon points="312.0,129.0 248.0,206.0 270.0,206.0" fill="#8b8b8b" /><polygon points="248.0,206.0 270.0,206.0 197.0,337.0 162.0,337.0" fill="#140c07" opacity="0.54"/><polygon points="12.0,337.0 197.0,337.0 312.0,129.0 318.0,129.0 320.0,193.0 337.6,196.5 340.0,199.0 341.0,201.7 305.0,400.0 290.0,460.0 285.0,495.0 262.0,522.0 218.0,534.5 12.0,535.0" fill="url(#wallL)" /><polygon points="12.0,342.5 199.0,342.5 225.0,485.0 12.0,485.0" fill="#b3b3b3" /><polygon points="199.0,342.5 204.0,342.5 230.5,485.0 225.0,485.0" fill="#d9d9d9" /><polygon points="12.0,336.5 197.0,336.5 200.0,342.5 12.0,342.5" fill="#d7d5d1" /><polygon points="12.0,523.0 215.0,523.0 218.0,534.5 12.0,535.0" fill="#b6b6b6" /><polygon points="215.0,523.0 258.0,511.5 283.0,496.0 285.0,495.0 262.0,522.0 218.0,534.5" fill="#cdcdcd" /><polygon points="417.0,132.0 753.0,132.0 753.0,209.0 417.0,209.0" fill="#b1b1b1" /><polygon points="417.0,132.0 753.0,132.0 752.0,134.0 417.0,134.0" fill="#bdbdbd" /><polygon points="753.2,132.5 692.0,209.0 711.0,209.0" fill="#8b8b8b" /><polygon points="692.0,209.0 711.0,209.0 640.0,342.0 602.0,342.0" fill="#140c07" opacity="0.54"/><polygon points="417.0,342.0 640.0,342.0 753.2,132.5 758.4,132.5 765.7,153.8 767.2,196.5 779.7,197.2 783.0,202.4 761.0,330.0 745.0,400.0 732.0,466.0 728.8,484.0 726.0,498.0 703.4,528.5 657.5,541.2 417.0,541.2" fill="#d2d2d2" /><polygon points="640.0,342.0 753.2,132.5 758.4,132.5 765.7,153.8 677.0,420.0 660.0,420.0" fill="#d8d8d8" /><polygon points="640.0,342.0 753.2,132.5 756.5,134.0 646.0,345.0" fill="#e1e1e1" /><polygon points="417.0,342.0 640.0,342.0 646.5,410.3 417.0,410.3" fill="url(#ffR)" /><polygon points="417.0,342.0 640.0,342.0 641.0,344.0 417.0,344.0" fill="#d3d3d3" /><polygon points="417.0,410.3 646.5,410.3 663.5,499.0 417.0,499.0" fill="#b4b4b4" /><polygon points="640.0,344.0 646.0,344.0 670.0,399.0 663.0,405.0 646.5,410.3" fill="#e0e0e0" /><polygon points="646.5,410.3 663.0,405.0 670.0,399.0 687.0,499.0 663.5,499.0" fill="#d9d9d9" /><polygon points="417.0,499.0 663.5,499.0 726.0,498.0 703.4,528.5 657.5,541.2 417.0,541.2" fill="#d0d0d0" /><polygon points="417.0,529.0 656.0,529.0 657.5,541.2 417.0,541.2" fill="#b6b6b6" /><polygon points="656.0,529.0 702.0,519.3 724.6,499.5 726.0,498.0 703.4,528.5 657.5,541.2" fill="#cbcbcb" /><path d="M413.5,108.5 L417.5,112 L421.5,108.5 Z" fill="#fff"/><path d="M413.5,572.5 L417.5,568.5 L421.5,572.5 Z" fill="#fff"/></g><polygon points="328.0,115.3 501.0,115.3 508.5,130.0 501.0,145.0 328.0,145.0" fill="#f2566f" /><text x="337.5" y="137" font-family="Liberation Sans" font-size="19.5" fill="#fdd5df">Optional Upgrade</text><text x="362" y="170.0" font-family="Liberation Sans" font-size="17.5" textLength="112.5" lengthAdjust="spacing" fill="#2a2218" opacity="0.6" transform="translate(0.9,1.1)" filter="url(#tb)">-Stronger wall</text><text x="362" y="170.0" font-family="Liberation Sans" font-size="17.5" textLength="112.5" lengthAdjust="spacing" fill="#fffcf2" stroke="#fffcf2" stroke-width="0.15">-Stronger wall</text><text x="362" y="193.3" font-family="Liberation Sans" font-size="17.5" textLength="73.5" lengthAdjust="spacing" fill="#2a2218" opacity="0.6" transform="translate(0.9,1.1)" filter="url(#tb)">-Easy cut</text><text x="362" y="193.3" font-family="Liberation Sans" font-size="17.5" textLength="73.5" lengthAdjust="spacing" fill="#fffcf2" stroke="#fffcf2" stroke-width="0.15">-Easy cut</text><text x="362" y="216.6" font-family="Liberation Sans" font-size="17.5" textLength="96.4" lengthAdjust="spacing" fill="#2a2218" opacity="0.6" transform="translate(0.9,1.1)" filter="url(#tb)">-Smooth cut</text><text x="362" y="216.6" font-family="Liberation Sans" font-size="17.5" textLength="96.4" lengthAdjust="spacing" fill="#fffcf2" stroke="#fffcf2" stroke-width="0.15">-Smooth cut</text><line x1="240.2" y1="400.4" x2="316.8" y2="348.5" stroke="#34302c" stroke-width="1.35" stroke-linecap="round"/><line x1="316.8" y1="348.5" x2="316.8" y2="372.8" stroke="#2a221a" stroke-width="1.7" stroke-linecap="square"/><line x1="316.8" y1="372.8" x2="394.1" y2="372.8" stroke="#2a221a" stroke-width="1.7" stroke-linecap="square"/><line x1="394.1" y1="372.8" x2="394.1" y2="425.8" stroke="#2a221a" stroke-width="1.7" stroke-linecap="square"/><line x1="394.1" y1="425.8" x2="316.8" y2="425.8" stroke="#2a221a" stroke-width="1.7" stroke-linecap="square"/><line x1="316.8" y1="425.8" x2="316.8" y2="451.2" stroke="#2a221a" stroke-width="1.7" stroke-linecap="square"/><line x1="316.8" y1="451.2" x2="240.2" y2="400.4" stroke="#34302c" stroke-width="1.35" stroke-linecap="round"/><line x1="481.0" y1="270.0" x2="563.7" y2="270.0" stroke="#2a221a" stroke-width="1.7" stroke-linecap="square"/><line x1="563.7" y1="270.0" x2="563.7" y2="319.2" stroke="#2a221a" stroke-width="1.7" stroke-linecap="square"/><line x1="563.7" y1="319.2" x2="602.5" y2="319.2" stroke="#2a221a" stroke-width="1.7" stroke-linecap="square"/><line x1="602.5" y1="319.2" x2="521.6" y2="369.5" stroke="#34302c" stroke-width="1.35" stroke-linecap="round"/><line x1="521.6" y1="369.5" x2="441.2" y2="319.2" stroke="#34302c" stroke-width="1.35" stroke-linecap="round"/><line x1="441.2" y1="319.2" x2="481.0" y2="319.2" stroke="#2a221a" stroke-width="1.7" stroke-linecap="square"/><line x1="481.0" y1="319.2" x2="481.0" y2="270.0" stroke="#2a221a" stroke-width="1.7" stroke-linecap="square"/><line x1="679.2" y1="427.9" x2="747.4" y2="373.4" stroke="#34302c" stroke-width="1.35" stroke-linecap="round"/><line x1="747.4" y1="373.4" x2="747.4" y2="400.1" stroke="#2a221a" stroke-width="1.7" stroke-linecap="square"/><line x1="747.4" y1="400.1" x2="815.3" y2="400.1" stroke="#2a221a" stroke-width="1.7" stroke-linecap="square"/><line x1="815.3" y1="400.1" x2="815.3" y2="454.6" stroke="#2a221a" stroke-width="1.7" stroke-linecap="square"/><line x1="815.3" y1="454.6" x2="747.4" y2="454.6" stroke="#2a221a" stroke-width="1.7" stroke-linecap="square"/><line x1="747.4" y1="454.6" x2="747.4" y2="481.4" stroke="#2a221a" stroke-width="1.7" stroke-linecap="square"/><line x1="747.4" y1="481.4" x2="679.2" y2="427.9" stroke="#34302c" stroke-width="1.35" stroke-linecap="round"/><text x="317.0" y="386.9" font-family="Liberation Sans" font-size="12.8" textLength="47.8" lengthAdjust="spacing" fill="#1c1610" stroke="#1c1610" stroke-width="0.25">Regular</text><text x="317.0" y="405.3" font-family="Liberation Sans" font-size="12.8" textLength="54.5" lengthAdjust="spacing" fill="#1c1610" stroke="#1c1610" stroke-width="0.25">Straight</text><text x="317.0" y="423.5" font-family="Liberation Sans" font-size="12.8" textLength="28.4" lengthAdjust="spacing" fill="#1c1610" stroke="#1c1610" stroke-width="0.25">Wall</text><text x="490.4" y="291.7" font-family="Liberation Sans" font-size="14.5" textLength="63.5" lengthAdjust="spacing" fill="#1c1610" stroke="#1c1610" stroke-width="0.25">Smoothly</text><text x="490.4" y="311.8" font-family="Liberation Sans" font-size="14.5" textLength="56.2" lengthAdjust="spacing" fill="#1c1610" stroke="#1c1610" stroke-width="0.25">Tapered</text><text x="490.4" y="332.5" font-family="Liberation Sans" font-size="14.5" textLength="33.4" lengthAdjust="spacing" fill="#1c1610" stroke="#1c1610" stroke-width="0.25">Edge</text><text x="743.3" y="423.4" font-family="Liberation Sans" font-size="14.3" textLength="69.6" lengthAdjust="spacing" fill="#1c1610" stroke="#1c1610" stroke-width="0.25">Thickened</text><text x="743.3" y="444.2" font-family="Liberation Sans" font-size="14.3" textLength="30.0" lengthAdjust="spacing" fill="#1c1610" stroke="#1c1610" stroke-width="0.25">Wall</text></svg></body></html>
